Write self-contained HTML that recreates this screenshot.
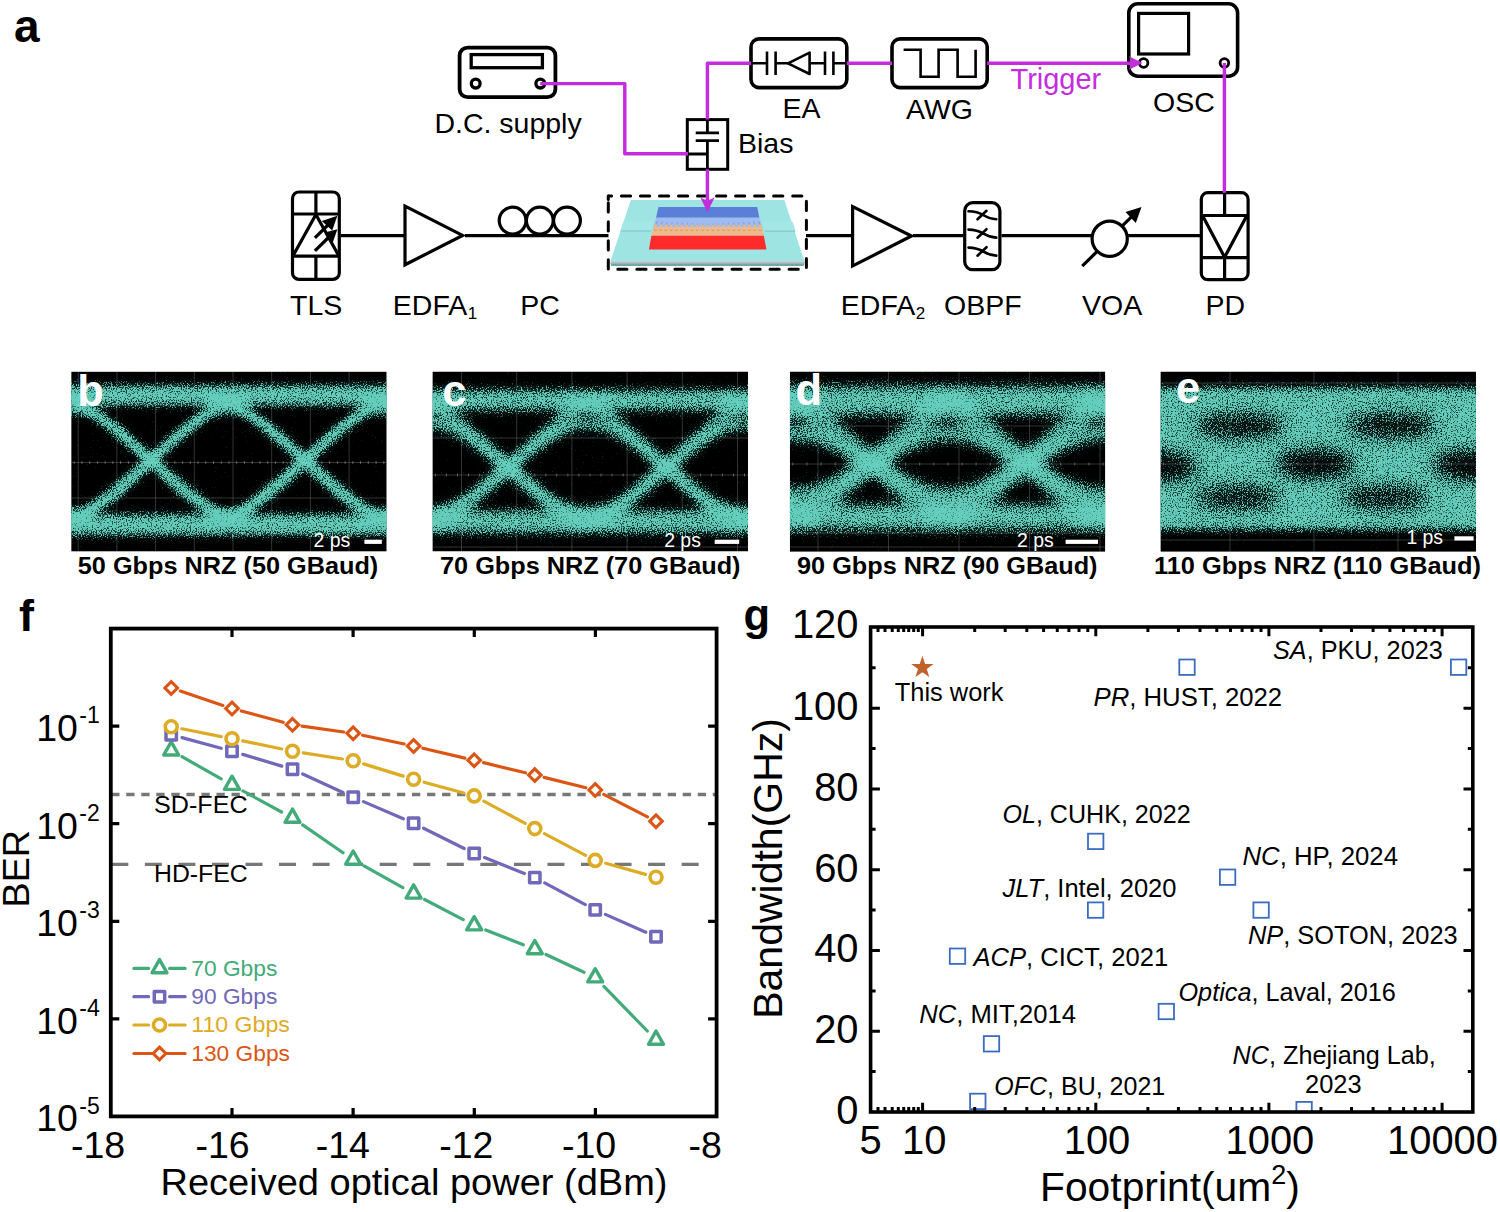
<!DOCTYPE html>
<html><head><meta charset="utf-8"><title>Figure</title>
<style>
html,body{margin:0;padding:0;background:#fff;}
body{width:1500px;height:1212px;overflow:hidden;}
svg{display:block;}
text{font-family:"Liberation Sans",sans-serif;}
.b{font-weight:bold;}
.i{font-style:italic;}
</style></head><body>
<svg width="1500" height="1212" viewBox="0 0 1500 1212">
<rect x="0" y="0" width="1500" height="1212" fill="#fff"/>

<g id="pa" fill="none" stroke="#000" stroke-width="3.2" stroke-linejoin="miter">
<text x="14" y="42" class="b" font-size="46" fill="#000" stroke="none">a</text>
<line x1="340.8" y1="235.6" x2="405" y2="235.6"/>
<line x1="465" y1="235.6" x2="608.5" y2="235.6"/>
<line x1="806" y1="235.6" x2="852" y2="235.6"/>
<line x1="913" y1="235.6" x2="963" y2="235.6"/>
<line x1="1001.5" y1="235.6" x2="1092.5" y2="235.6"/>
<line x1="1127" y1="235.6" x2="1200" y2="235.6"/>
<rect x="292.5" y="192" width="46.8" height="87.4" rx="6.5"/>
<path d="M292.5 214H339.3M292.5 256.1H339.3M315.9 192V214M315.9 256.1V279.4"/>
<path d="M292.9 256L315.9 214.5L338.9 256" stroke-linejoin="miter"/>
<path d="M314.9 237.9L329 224M314.9 250.9L329 237"/>
<path d="M337.4 215.8L321.8 221L332.2 230.5Z M337.4 229.2L324.8 232.4L332.2 243.9Z" fill="#000" stroke="none"/>
<path d="M405 206V264.8L462.6 235.4Z"/>
<circle cx="512.6" cy="220.6" r="13.4"/><circle cx="539.8" cy="220.6" r="13.4"/><circle cx="567" cy="220.6" r="13.4"/>
<path d="M852.6 206.5V266L911.5 236Z"/>
<rect x="964.7" y="202.7" width="35.2" height="67" rx="8"/>
<path d="M968.5 211.2 C976 211.2 980 213 984 215.5 S991 219 996.3 219.2 M977.5 219.3 L986.5 210.8" stroke-width="2.6" stroke-linecap="round"/>
<path d="M968.5 229.6 C976 229.6 980 231.4 984 233.9 S991 237.4 996.3 237.6 M977.5 237.70000000000002 L986.5 229.20000000000002" stroke-width="2.6" stroke-linecap="round"/>
<path d="M968.5 247.6 C976 247.6 980 249.4 984 251.9 S991 255.4 996.3 255.6 M977.5 255.70000000000002 L986.5 247.20000000000002" stroke-width="2.6" stroke-linecap="round"/>
<circle cx="1109.7" cy="238.7" r="17.6"/>
<path d="M1082.2 266.2L1097.4 251.2M1122 226.2L1133 215.4"/>
<path d="M1141.5 207.1L1125.5 212L1135.8 222.9Z" fill="#000" stroke="none"/>
<rect x="1201.3" y="192.7" width="46.8" height="87" rx="6.5"/>
<path d="M1201.3 215.5H1248.1M1201.3 257.6H1248.1M1224.6 192.7V215.5M1224.6 257.6V279.7"/>
<path d="M1202.6 215.8L1224.6 257.2L1246.8 215.8"/>
<rect x="459.6" y="47.6" width="95.8" height="49.6" rx="8" stroke-width="3.8"/>
<rect x="471.2" y="54.6" width="71.2" height="13.1" stroke-width="3.3"/>
<circle cx="475.7" cy="83.6" r="4.4" stroke-width="3.3"/><circle cx="540.3" cy="83.6" r="4.4" stroke-width="3.3"/>
<rect x="687.3" y="119.6" width="40.4" height="49.7" stroke-width="3"/>
<path d="M707.4 119.6V132.9M695.7 132.9H719M695.7 140.6H719M707.4 140.6V169.3M687.3 154H707.4" stroke-width="2.8"/>
<rect x="751" y="38.9" width="95.8" height="48.7" rx="8" stroke-width="3.6"/>
<path d="M751 63.3H767M767 51.5V75M775.6 51.5V75M775.6 63.3H789M810 63.3H825M825 51.5V75M833.4 51.5V75M833.4 63.3H846.8" stroke-width="2.6"/>
<path d="M788 63.3L809.6 52.6V74L788 63.3Z" stroke-width="2.6" stroke-linejoin="round"/>
<rect x="892" y="38.9" width="95.2" height="48.7" rx="8" stroke-width="3.6"/>
<path d="M903.6 49.8H920.6V76.8H938.6V49.8H957.6V76.8H975.6V49.8" stroke-width="2.6"/>
<rect x="1128.8" y="3.8" width="108.8" height="72.4" rx="9" stroke-width="3.6"/>
<rect x="1138.6" y="13.4" width="50" height="40.6" stroke-width="3.2"/>
<circle cx="1143.6" cy="63" r="4.3" stroke-width="2.8"/><circle cx="1224.4" cy="63" r="4.3" stroke-width="2.8"/>
</g>
<g id="chip">
<path d="M630.8 200H784.4L804.4 261.2H610.5Z" fill="#9de4e3"/>
<path d="M610.5 261.2H804.4V263.2H610.5Z" fill="#bdbdbd"/>
<path d="M610.5 263.2H804.4L803.6 266H611.3Z" fill="#6ea9a8"/>
<path d="M623.5 221.5L654 221.5L651 230.6L620.5 230.6Z" fill="#a4e8e6"/>
<path d="M620.5 230.6H651V231.6H620.3Z" fill="#7fc4c3"/>
<path d="M762 221.5L792.5 221.5L795.5 230.6L765 230.6Z" fill="#a4e8e6"/>
<path d="M765 230.6H795.5V231.6H765Z" fill="#7fc4c3"/>
<path d="M658.5 207H757.2L759.4 217.8H656Z" fill="#5b7ed6"/>
<path d="M656 217.8H759.4L762 227.2H653.4Z" fill="#9ebcf2"/>
<path d="M653.4 227.2H762L763.8 235.8H651.4Z" fill="#efb98b"/>
<path d="M651.4 235.8H763.8L766.4 249.6H648.9Z" fill="#ff2a2a"/>
<path d="M655.6 225L657.2 221.4M660.8 225L662.3 221.6M666.1 225L667.3 221.9M671.3 225L672.4 222.1M676.5 225L677.5 222.4M681.8 225L682.5 222.6M687.0 225L687.6 222.8M692.2 225L692.7 223.1M697.4 225L697.8 223.3M702.7 225L702.8 223.6M707.9 225L707.9 223.8M713.1 225L713.0 223.6M718.4 225L718.0 223.3M723.6 225L723.1 223.1M728.8 225L728.2 222.8M734.1 225L733.3 222.6M739.3 225L738.3 222.4M744.5 225L743.4 222.1M749.7 225L748.5 221.9M755.0 225L753.5 221.6M760.2 225L758.6 221.4" stroke="#7f8bb5" stroke-width="0.7" fill="none"/>
<path d="M654.2 230.2h2.4M659.4 230.2h2.4M664.7 230.2h2.4M669.9 230.2h2.4M675.1 230.2h2.4M680.4 230.2h2.4M685.6 230.2h2.4M690.8 230.2h2.4M696.0 230.2h2.4M701.3 230.2h2.4M706.5 230.2h2.4M711.7 230.2h2.4M717.0 230.2h2.4M722.2 230.2h2.4M727.4 230.2h2.4M732.7 230.2h2.4M737.9 230.2h2.4M743.1 230.2h2.4M748.3 230.2h2.4M753.6 230.2h2.4M758.8 230.2h2.4" stroke="#c48d62" stroke-width="0.9" fill="none"/>
<path d="M654.6 230V224.7Q655.6 223.8 656.6 224.7V230ZM659.8 230V224.8Q660.8 223.9 661.8 224.8V230ZM665.1 230V224.8Q666.1 223.9 667.1 224.8V230ZM670.3 230V224.8Q671.3 224.0 672.3 224.8V230ZM675.5 230V224.9Q676.5 224.0 677.5 224.9V230ZM680.8 230V224.9Q681.8 224.1 682.8 224.9V230ZM686.0 230V225.0Q687.0 224.1 688.0 225.0V230ZM691.2 230V225.0Q692.2 224.2 693.2 225.0V230ZM696.4 230V225.1Q697.4 224.2 698.4 225.1V230ZM701.7 230V225.1Q702.7 224.2 703.7 225.1V230ZM706.9 230V225.2Q707.9 224.3 708.9 225.2V230ZM712.1 230V225.1Q713.1 224.2 714.1 225.1V230ZM717.4 230V225.1Q718.4 224.2 719.4 225.1V230ZM722.6 230V225.0Q723.6 224.2 724.6 225.0V230ZM727.8 230V225.0Q728.8 224.1 729.8 225.0V230ZM733.1 230V224.9Q734.1 224.1 735.1 224.9V230ZM738.3 230V224.9Q739.3 224.0 740.3 224.9V230ZM743.5 230V224.8Q744.5 224.0 745.5 224.8V230ZM748.7 230V224.8Q749.7 223.9 750.7 224.8V230ZM754.0 230V224.8Q755.0 223.9 756.0 224.8V230ZM759.2 230V224.7Q760.2 223.8 761.2 224.7V230Z" fill="#f3bd8b" stroke="#d9a273" stroke-width="0.3"/>
<path d="M608.3 196V199.4" stroke="#000" stroke-width="3" fill="none" stroke-linecap="round"/>
<rect x="608.3" y="196" width="198.1" height="73.3" fill="none" stroke="#000" stroke-width="3" stroke-dasharray="9.2 9.83" stroke-dashoffset="5.93" stroke-linecap="round"/>
</g>
<g fill="none" stroke="#c42ddc" stroke-width="3.45" stroke-linejoin="round">
<path d="M540.2 83.6H624.8V153.8H688"/>
<path d="M751 63.3H707.4V119.6"/>
<path d="M707.4 169.3V200"/>
<path d="M846.8 63.3H892"/>
<path d="M987.2 63.3H1132"/>
<path d="M1224.4 63V192.7"/>
<path d="M700.2 197.3L707.4 212L714.8 197.3Q707.4 203 700.2 197.3Z" fill="#c42ddc" stroke="none"/>
<path d="M1129 56.2L1142.6 63L1129 69.8Q1132.5 63 1129 56.2Z" fill="#c42ddc" stroke="none"/>
</g>
<g font-size="28.5" fill="#000">
<text x="290" y="315.2">TLS</text>
<text x="392.8" y="315.2">EDFA<tspan font-size="17" dy="3.8" dx="0.5">1</tspan></text>
<text x="520.3" y="315.2">PC</text>
<text x="840.8" y="315.2">EDFA<tspan font-size="17" dy="3.8" dx="0.5">2</tspan></text>
<text x="944" y="315.2">OBPF</text>
<text x="1082" y="315.2">VOA</text>
<text x="1205.5" y="315.2">PD</text>
<text x="434.4" y="133">D.C. supply</text>
<text x="738" y="153">Bias</text>
<text x="782.5" y="118.4">EA</text>
<text x="906" y="118.6">AWG</text>
<text x="1153" y="111.6">OSC</text>
<text x="1010.5" y="89" font-size="29" fill="#c42ddc">Trigger</text>
</g>
<defs><clipPath id="ec1"><rect x="71.2" y="371.6" width="315.5" height="180.0"/></clipPath>
<filter id="ef1" x="0" y="0" width="100%" height="100%" color-interpolation-filters="sRGB">
 <feGaussianBlur in="SourceAlpha" stdDeviation="3.9" result="I"/>
 <feTurbulence type="fractalNoise" baseFrequency="0.8" numOctaves="2" seed="48" result="n"/>
 <feColorMatrix in="n" type="matrix" values="0 0 0 0 0  0 0 0 0 0  0 0 0 0 0  1 0 0 0 0" result="n1"/>
 <feComponentTransfer in="n1" result="U"><feFuncA type="table" tableValues="0.0002 0.002 0.016 0.076 0.239 0.5 0.761 0.924 0.984 0.998 1"/></feComponentTransfer>
 <feComposite in="I" in2="U" operator="arithmetic" k1="0" k2="3.920" k3="-3.500" k4="0.185" result="d"/>
 <feComponentTransfer in="d" result="d2"><feFuncA type="linear" slope="0.82" intercept="0"/></feComponentTransfer>
 <feFlood flood-color="#76ead6" result="c"/>
 <feFlood flood-color="#2ca392" result="cb"/>
 <feComposite in="c" in2="d2" operator="in" result="dots"/>
 <feComponentTransfer in="I" result="Ib"><feFuncA type="linear" slope="0.5" intercept="0"/></feComponentTransfer>
 <feComposite in="cb" in2="Ib" operator="in" result="base"/>
 <feMerge result="m"><feMergeNode in="base"/><feMergeNode in="dots"/></feMerge>
 <feGaussianBlur in="m" stdDeviation="0.5"/>
</filter>
</defs>
<g clip-path="url(#ec1)">
<rect x="71.2" y="371.6" width="315.5" height="180.0" fill="#000"/>
<path d="M78.2 371.6 V551.6M116.9 371.6 V551.6M155.6 371.6 V551.6M194.3 371.6 V551.6M233.0 371.6 V551.6M271.7 371.6 V551.6M310.4 371.6 V551.6M349.1 371.6 V551.6M387.8 371.6 V551.6M71.2 405.0 H386.7M71.2 462.5 H386.7M71.2 498.0 H386.7M71.2 534.0 H386.7" stroke="#aaa" stroke-opacity="0.3" stroke-width="1" fill="none"/>
<path d="M74.2 461.0 v3M81.9 461.0 v3M89.7 461.0 v3M97.4 461.0 v3M105.2 461.0 v3M112.9 461.0 v3M120.6 461.0 v3M128.4 461.0 v3M136.1 461.0 v3M143.9 461.0 v3M151.6 461.0 v3M159.3 461.0 v3M167.1 461.0 v3M174.8 461.0 v3M182.6 461.0 v3M190.3 461.0 v3M198.0 461.0 v3M205.8 461.0 v3M213.5 461.0 v3M221.3 461.0 v3M229.0 461.0 v3M236.7 461.0 v3M244.5 461.0 v3M252.2 461.0 v3M260.0 461.0 v3M267.7 461.0 v3M275.4 461.0 v3M283.2 461.0 v3M290.9 461.0 v3M298.7 461.0 v3M306.4 461.0 v3M314.1 461.0 v3M321.9 461.0 v3M329.6 461.0 v3M337.4 461.0 v3M345.1 461.0 v3M352.8 461.0 v3M360.6 461.0 v3M368.3 461.0 v3M376.1 461.0 v3M383.8 461.0 v3" stroke="#bbb" stroke-opacity="0.45" stroke-width="1" fill="none"/>
<g filter="url(#ef1)" fill="none" stroke="#000" stroke-linecap="butt">
<rect x="51.2" y="351.6" width="355.5" height="220.0" fill="#000" fill-opacity="0.002" stroke="none"/>
<path d="M41.2 395.2 H416.7" stroke-width="22" stroke-opacity="0.62"/>
<path d="M41.2 395.2 H416.7" stroke-width="8" stroke-opacity="0.6"/>
<path d="M41.2 524.5 H416.7" stroke-width="23" stroke-opacity="0.62"/>
<path d="M41.2 524.5 H416.7" stroke-width="8" stroke-opacity="0.6"/>
<path d="M-103.3 523.1 L-100.3 522.8 L-97.3 522.5 L-94.3 522.0 L-91.3 521.4 L-88.3 520.7 L-85.3 519.8 L-82.3 518.8 L-79.3 517.7 L-76.3 516.4 L-73.3 514.9 L-70.3 513.3 L-67.3 511.6 L-64.3 509.7 L-61.3 507.7 L-58.3 505.6 L-55.3 503.4 L-52.3 501.1 L-49.3 498.8 L-46.3 496.4 L-43.3 493.9 L-40.3 491.5 L-37.3 489.0 L-34.3 486.5 L-31.3 483.9 L-28.3 481.4 L-25.3 478.8 L-22.3 476.3 L-19.3 473.7 L-16.3 471.2 L-13.3 468.6 L-10.3 466.1 L-7.3 463.5 L-4.3 460.9 L-1.3 458.4 L1.7 455.8 L4.7 453.3 L7.7 450.7 L10.7 448.1 L13.7 445.6 L16.7 443.0 L19.7 440.5 L22.7 437.9 L25.7 435.4 L28.7 432.9 L31.7 430.4 L34.7 427.9 L37.7 425.4 L40.7 423.0 L43.7 420.6 L46.7 418.3 L49.7 416.0 L52.7 413.8 L55.7 411.8 L58.7 409.8 L61.7 408.0 L64.7 406.3 L67.7 404.7 L70.7 403.3 L73.7 402.0 L76.7 400.9 L79.7 400.0 L82.7 399.1 L85.7 398.5 L88.7 397.9 L91.7 397.4 L94.7 397.1" stroke-width="11" stroke-opacity="0.6"/>
<path d="M-103.3 523.1 L-100.3 522.8 L-97.3 522.5 L-94.3 522.0 L-91.3 521.4 L-88.3 520.7 L-85.3 519.8 L-82.3 518.8 L-79.3 517.7 L-76.3 516.4 L-73.3 514.9 L-70.3 513.3 L-67.3 511.6 L-64.3 509.7 L-61.3 507.7 L-58.3 505.6 L-55.3 503.4 L-52.3 501.1 L-49.3 498.8 L-46.3 496.4 L-43.3 493.9 L-40.3 491.5 L-37.3 489.0 L-34.3 486.5 L-31.3 483.9 L-28.3 481.4 L-25.3 478.8 L-22.3 476.3 L-19.3 473.7 L-16.3 471.2 L-13.3 468.6 L-10.3 466.1 L-7.3 463.5 L-4.3 460.9 L-1.3 458.4 L1.7 455.8 L4.7 453.3 L7.7 450.7 L10.7 448.1 L13.7 445.6 L16.7 443.0 L19.7 440.5 L22.7 437.9 L25.7 435.4 L28.7 432.9 L31.7 430.4 L34.7 427.9 L37.7 425.4 L40.7 423.0 L43.7 420.6 L46.7 418.3 L49.7 416.0 L52.7 413.8 L55.7 411.8 L58.7 409.8 L61.7 408.0 L64.7 406.3 L67.7 404.7 L70.7 403.3 L73.7 402.0 L76.7 400.9 L79.7 400.0 L82.7 399.1 L85.7 398.5 L88.7 397.9 L91.7 397.4 L94.7 397.1" stroke-width="4" stroke-opacity="0.5"/>
<path d="M-103.3 396.9 L-100.3 397.2 L-97.3 397.5 L-94.3 398.0 L-91.3 398.6 L-88.3 399.3 L-85.3 400.2 L-82.3 401.2 L-79.3 402.3 L-76.3 403.6 L-73.3 405.1 L-70.3 406.7 L-67.3 408.4 L-64.3 410.3 L-61.3 412.3 L-58.3 414.4 L-55.3 416.6 L-52.3 418.9 L-49.3 421.2 L-46.3 423.6 L-43.3 426.1 L-40.3 428.5 L-37.3 431.0 L-34.3 433.5 L-31.3 436.1 L-28.3 438.6 L-25.3 441.2 L-22.3 443.7 L-19.3 446.3 L-16.3 448.8 L-13.3 451.4 L-10.3 453.9 L-7.3 456.5 L-4.3 459.1 L-1.3 461.6 L1.7 464.2 L4.7 466.7 L7.7 469.3 L10.7 471.9 L13.7 474.4 L16.7 477.0 L19.7 479.5 L22.7 482.1 L25.7 484.6 L28.7 487.1 L31.7 489.6 L34.7 492.1 L37.7 494.6 L40.7 497.0 L43.7 499.4 L46.7 501.7 L49.7 504.0 L52.7 506.2 L55.7 508.2 L58.7 510.2 L61.7 512.0 L64.7 513.7 L67.7 515.3 L70.7 516.7 L73.7 518.0 L76.7 519.1 L79.7 520.0 L82.7 520.9 L85.7 521.5 L88.7 522.1 L91.7 522.6 L94.7 522.9" stroke-width="11" stroke-opacity="0.6"/>
<path d="M-103.3 396.9 L-100.3 397.2 L-97.3 397.5 L-94.3 398.0 L-91.3 398.6 L-88.3 399.3 L-85.3 400.2 L-82.3 401.2 L-79.3 402.3 L-76.3 403.6 L-73.3 405.1 L-70.3 406.7 L-67.3 408.4 L-64.3 410.3 L-61.3 412.3 L-58.3 414.4 L-55.3 416.6 L-52.3 418.9 L-49.3 421.2 L-46.3 423.6 L-43.3 426.1 L-40.3 428.5 L-37.3 431.0 L-34.3 433.5 L-31.3 436.1 L-28.3 438.6 L-25.3 441.2 L-22.3 443.7 L-19.3 446.3 L-16.3 448.8 L-13.3 451.4 L-10.3 453.9 L-7.3 456.5 L-4.3 459.1 L-1.3 461.6 L1.7 464.2 L4.7 466.7 L7.7 469.3 L10.7 471.9 L13.7 474.4 L16.7 477.0 L19.7 479.5 L22.7 482.1 L25.7 484.6 L28.7 487.1 L31.7 489.6 L34.7 492.1 L37.7 494.6 L40.7 497.0 L43.7 499.4 L46.7 501.7 L49.7 504.0 L52.7 506.2 L55.7 508.2 L58.7 510.2 L61.7 512.0 L64.7 513.7 L67.7 515.3 L70.7 516.7 L73.7 518.0 L76.7 519.1 L79.7 520.0 L82.7 520.9 L85.7 521.5 L88.7 522.1 L91.7 522.6 L94.7 522.9" stroke-width="4" stroke-opacity="0.5"/>
<path d="M50.7 523.1 L53.7 522.8 L56.7 522.5 L59.7 522.0 L62.7 521.4 L65.7 520.7 L68.7 519.8 L71.7 518.8 L74.7 517.7 L77.7 516.4 L80.7 514.9 L83.7 513.3 L86.7 511.6 L89.7 509.7 L92.7 507.7 L95.7 505.6 L98.7 503.4 L101.7 501.1 L104.7 498.8 L107.7 496.4 L110.7 493.9 L113.7 491.5 L116.7 489.0 L119.7 486.5 L122.7 483.9 L125.7 481.4 L128.7 478.8 L131.7 476.3 L134.7 473.7 L137.7 471.2 L140.7 468.6 L143.7 466.1 L146.7 463.5 L149.7 460.9 L152.7 458.4 L155.7 455.8 L158.7 453.3 L161.7 450.7 L164.7 448.1 L167.7 445.6 L170.7 443.0 L173.7 440.5 L176.7 437.9 L179.7 435.4 L182.7 432.9 L185.7 430.4 L188.7 427.9 L191.7 425.4 L194.7 423.0 L197.7 420.6 L200.7 418.3 L203.7 416.0 L206.7 413.8 L209.7 411.8 L212.7 409.8 L215.7 408.0 L218.7 406.3 L221.7 404.7 L224.7 403.3 L227.7 402.0 L230.7 400.9 L233.7 400.0 L236.7 399.1 L239.7 398.5 L242.7 397.9 L245.7 397.4 L248.7 397.1" stroke-width="11" stroke-opacity="0.6"/>
<path d="M50.7 523.1 L53.7 522.8 L56.7 522.5 L59.7 522.0 L62.7 521.4 L65.7 520.7 L68.7 519.8 L71.7 518.8 L74.7 517.7 L77.7 516.4 L80.7 514.9 L83.7 513.3 L86.7 511.6 L89.7 509.7 L92.7 507.7 L95.7 505.6 L98.7 503.4 L101.7 501.1 L104.7 498.8 L107.7 496.4 L110.7 493.9 L113.7 491.5 L116.7 489.0 L119.7 486.5 L122.7 483.9 L125.7 481.4 L128.7 478.8 L131.7 476.3 L134.7 473.7 L137.7 471.2 L140.7 468.6 L143.7 466.1 L146.7 463.5 L149.7 460.9 L152.7 458.4 L155.7 455.8 L158.7 453.3 L161.7 450.7 L164.7 448.1 L167.7 445.6 L170.7 443.0 L173.7 440.5 L176.7 437.9 L179.7 435.4 L182.7 432.9 L185.7 430.4 L188.7 427.9 L191.7 425.4 L194.7 423.0 L197.7 420.6 L200.7 418.3 L203.7 416.0 L206.7 413.8 L209.7 411.8 L212.7 409.8 L215.7 408.0 L218.7 406.3 L221.7 404.7 L224.7 403.3 L227.7 402.0 L230.7 400.9 L233.7 400.0 L236.7 399.1 L239.7 398.5 L242.7 397.9 L245.7 397.4 L248.7 397.1" stroke-width="4" stroke-opacity="0.5"/>
<path d="M50.7 396.9 L53.7 397.2 L56.7 397.5 L59.7 398.0 L62.7 398.6 L65.7 399.3 L68.7 400.2 L71.7 401.2 L74.7 402.3 L77.7 403.6 L80.7 405.1 L83.7 406.7 L86.7 408.4 L89.7 410.3 L92.7 412.3 L95.7 414.4 L98.7 416.6 L101.7 418.9 L104.7 421.2 L107.7 423.6 L110.7 426.1 L113.7 428.5 L116.7 431.0 L119.7 433.5 L122.7 436.1 L125.7 438.6 L128.7 441.2 L131.7 443.7 L134.7 446.3 L137.7 448.8 L140.7 451.4 L143.7 453.9 L146.7 456.5 L149.7 459.1 L152.7 461.6 L155.7 464.2 L158.7 466.7 L161.7 469.3 L164.7 471.9 L167.7 474.4 L170.7 477.0 L173.7 479.5 L176.7 482.1 L179.7 484.6 L182.7 487.1 L185.7 489.6 L188.7 492.1 L191.7 494.6 L194.7 497.0 L197.7 499.4 L200.7 501.7 L203.7 504.0 L206.7 506.2 L209.7 508.2 L212.7 510.2 L215.7 512.0 L218.7 513.7 L221.7 515.3 L224.7 516.7 L227.7 518.0 L230.7 519.1 L233.7 520.0 L236.7 520.9 L239.7 521.5 L242.7 522.1 L245.7 522.6 L248.7 522.9" stroke-width="11" stroke-opacity="0.6"/>
<path d="M50.7 396.9 L53.7 397.2 L56.7 397.5 L59.7 398.0 L62.7 398.6 L65.7 399.3 L68.7 400.2 L71.7 401.2 L74.7 402.3 L77.7 403.6 L80.7 405.1 L83.7 406.7 L86.7 408.4 L89.7 410.3 L92.7 412.3 L95.7 414.4 L98.7 416.6 L101.7 418.9 L104.7 421.2 L107.7 423.6 L110.7 426.1 L113.7 428.5 L116.7 431.0 L119.7 433.5 L122.7 436.1 L125.7 438.6 L128.7 441.2 L131.7 443.7 L134.7 446.3 L137.7 448.8 L140.7 451.4 L143.7 453.9 L146.7 456.5 L149.7 459.1 L152.7 461.6 L155.7 464.2 L158.7 466.7 L161.7 469.3 L164.7 471.9 L167.7 474.4 L170.7 477.0 L173.7 479.5 L176.7 482.1 L179.7 484.6 L182.7 487.1 L185.7 489.6 L188.7 492.1 L191.7 494.6 L194.7 497.0 L197.7 499.4 L200.7 501.7 L203.7 504.0 L206.7 506.2 L209.7 508.2 L212.7 510.2 L215.7 512.0 L218.7 513.7 L221.7 515.3 L224.7 516.7 L227.7 518.0 L230.7 519.1 L233.7 520.0 L236.7 520.9 L239.7 521.5 L242.7 522.1 L245.7 522.6 L248.7 522.9" stroke-width="4" stroke-opacity="0.5"/>
<path d="M204.7 523.1 L207.7 522.8 L210.7 522.5 L213.7 522.0 L216.7 521.4 L219.7 520.7 L222.7 519.8 L225.7 518.8 L228.7 517.7 L231.7 516.4 L234.7 514.9 L237.7 513.3 L240.7 511.6 L243.7 509.7 L246.7 507.7 L249.7 505.6 L252.7 503.4 L255.7 501.1 L258.7 498.8 L261.7 496.4 L264.7 493.9 L267.7 491.5 L270.7 489.0 L273.7 486.5 L276.7 483.9 L279.7 481.4 L282.7 478.8 L285.7 476.3 L288.7 473.7 L291.7 471.2 L294.7 468.6 L297.7 466.1 L300.7 463.5 L303.7 460.9 L306.7 458.4 L309.7 455.8 L312.7 453.3 L315.7 450.7 L318.7 448.1 L321.7 445.6 L324.7 443.0 L327.7 440.5 L330.7 437.9 L333.7 435.4 L336.7 432.9 L339.7 430.4 L342.7 427.9 L345.7 425.4 L348.7 423.0 L351.7 420.6 L354.7 418.3 L357.7 416.0 L360.7 413.8 L363.7 411.8 L366.7 409.8 L369.7 408.0 L372.7 406.3 L375.7 404.7 L378.7 403.3 L381.7 402.0 L384.7 400.9 L387.7 400.0 L390.7 399.1 L393.7 398.5 L396.7 397.9 L399.7 397.4 L402.7 397.1" stroke-width="11" stroke-opacity="0.6"/>
<path d="M204.7 523.1 L207.7 522.8 L210.7 522.5 L213.7 522.0 L216.7 521.4 L219.7 520.7 L222.7 519.8 L225.7 518.8 L228.7 517.7 L231.7 516.4 L234.7 514.9 L237.7 513.3 L240.7 511.6 L243.7 509.7 L246.7 507.7 L249.7 505.6 L252.7 503.4 L255.7 501.1 L258.7 498.8 L261.7 496.4 L264.7 493.9 L267.7 491.5 L270.7 489.0 L273.7 486.5 L276.7 483.9 L279.7 481.4 L282.7 478.8 L285.7 476.3 L288.7 473.7 L291.7 471.2 L294.7 468.6 L297.7 466.1 L300.7 463.5 L303.7 460.9 L306.7 458.4 L309.7 455.8 L312.7 453.3 L315.7 450.7 L318.7 448.1 L321.7 445.6 L324.7 443.0 L327.7 440.5 L330.7 437.9 L333.7 435.4 L336.7 432.9 L339.7 430.4 L342.7 427.9 L345.7 425.4 L348.7 423.0 L351.7 420.6 L354.7 418.3 L357.7 416.0 L360.7 413.8 L363.7 411.8 L366.7 409.8 L369.7 408.0 L372.7 406.3 L375.7 404.7 L378.7 403.3 L381.7 402.0 L384.7 400.9 L387.7 400.0 L390.7 399.1 L393.7 398.5 L396.7 397.9 L399.7 397.4 L402.7 397.1" stroke-width="4" stroke-opacity="0.5"/>
<path d="M204.7 396.9 L207.7 397.2 L210.7 397.5 L213.7 398.0 L216.7 398.6 L219.7 399.3 L222.7 400.2 L225.7 401.2 L228.7 402.3 L231.7 403.6 L234.7 405.1 L237.7 406.7 L240.7 408.4 L243.7 410.3 L246.7 412.3 L249.7 414.4 L252.7 416.6 L255.7 418.9 L258.7 421.2 L261.7 423.6 L264.7 426.1 L267.7 428.5 L270.7 431.0 L273.7 433.5 L276.7 436.1 L279.7 438.6 L282.7 441.2 L285.7 443.7 L288.7 446.3 L291.7 448.8 L294.7 451.4 L297.7 453.9 L300.7 456.5 L303.7 459.1 L306.7 461.6 L309.7 464.2 L312.7 466.7 L315.7 469.3 L318.7 471.9 L321.7 474.4 L324.7 477.0 L327.7 479.5 L330.7 482.1 L333.7 484.6 L336.7 487.1 L339.7 489.6 L342.7 492.1 L345.7 494.6 L348.7 497.0 L351.7 499.4 L354.7 501.7 L357.7 504.0 L360.7 506.2 L363.7 508.2 L366.7 510.2 L369.7 512.0 L372.7 513.7 L375.7 515.3 L378.7 516.7 L381.7 518.0 L384.7 519.1 L387.7 520.0 L390.7 520.9 L393.7 521.5 L396.7 522.1 L399.7 522.6 L402.7 522.9" stroke-width="11" stroke-opacity="0.6"/>
<path d="M204.7 396.9 L207.7 397.2 L210.7 397.5 L213.7 398.0 L216.7 398.6 L219.7 399.3 L222.7 400.2 L225.7 401.2 L228.7 402.3 L231.7 403.6 L234.7 405.1 L237.7 406.7 L240.7 408.4 L243.7 410.3 L246.7 412.3 L249.7 414.4 L252.7 416.6 L255.7 418.9 L258.7 421.2 L261.7 423.6 L264.7 426.1 L267.7 428.5 L270.7 431.0 L273.7 433.5 L276.7 436.1 L279.7 438.6 L282.7 441.2 L285.7 443.7 L288.7 446.3 L291.7 448.8 L294.7 451.4 L297.7 453.9 L300.7 456.5 L303.7 459.1 L306.7 461.6 L309.7 464.2 L312.7 466.7 L315.7 469.3 L318.7 471.9 L321.7 474.4 L324.7 477.0 L327.7 479.5 L330.7 482.1 L333.7 484.6 L336.7 487.1 L339.7 489.6 L342.7 492.1 L345.7 494.6 L348.7 497.0 L351.7 499.4 L354.7 501.7 L357.7 504.0 L360.7 506.2 L363.7 508.2 L366.7 510.2 L369.7 512.0 L372.7 513.7 L375.7 515.3 L378.7 516.7 L381.7 518.0 L384.7 519.1 L387.7 520.0 L390.7 520.9 L393.7 521.5 L396.7 522.1 L399.7 522.6 L402.7 522.9" stroke-width="4" stroke-opacity="0.5"/>
<path d="M358.7 523.1 L361.7 522.8 L364.7 522.5 L367.7 522.0 L370.7 521.4 L373.7 520.7 L376.7 519.8 L379.7 518.8 L382.7 517.7 L385.7 516.4 L388.7 514.9 L391.7 513.3 L394.7 511.6 L397.7 509.7 L400.7 507.7 L403.7 505.6 L406.7 503.4 L409.7 501.1 L412.7 498.8 L415.7 496.4 L418.7 493.9 L421.7 491.5 L424.7 489.0 L427.7 486.5 L430.7 483.9 L433.7 481.4 L436.7 478.8 L439.7 476.3 L442.7 473.7 L445.7 471.2 L448.7 468.6 L451.7 466.1 L454.7 463.5 L457.7 460.9 L460.7 458.4 L463.7 455.8 L466.7 453.3 L469.7 450.7 L472.7 448.1 L475.7 445.6 L478.7 443.0 L481.7 440.5 L484.7 437.9 L487.7 435.4 L490.7 432.9 L493.7 430.4 L496.7 427.9 L499.7 425.4 L502.7 423.0 L505.7 420.6 L508.7 418.3 L511.7 416.0 L514.7 413.8 L517.7 411.8 L520.7 409.8 L523.7 408.0 L526.7 406.3 L529.7 404.7 L532.7 403.3 L535.7 402.0 L538.7 400.9 L541.7 400.0 L544.7 399.1 L547.7 398.5 L550.7 397.9 L553.7 397.4 L556.7 397.1" stroke-width="11" stroke-opacity="0.6"/>
<path d="M358.7 523.1 L361.7 522.8 L364.7 522.5 L367.7 522.0 L370.7 521.4 L373.7 520.7 L376.7 519.8 L379.7 518.8 L382.7 517.7 L385.7 516.4 L388.7 514.9 L391.7 513.3 L394.7 511.6 L397.7 509.7 L400.7 507.7 L403.7 505.6 L406.7 503.4 L409.7 501.1 L412.7 498.8 L415.7 496.4 L418.7 493.9 L421.7 491.5 L424.7 489.0 L427.7 486.5 L430.7 483.9 L433.7 481.4 L436.7 478.8 L439.7 476.3 L442.7 473.7 L445.7 471.2 L448.7 468.6 L451.7 466.1 L454.7 463.5 L457.7 460.9 L460.7 458.4 L463.7 455.8 L466.7 453.3 L469.7 450.7 L472.7 448.1 L475.7 445.6 L478.7 443.0 L481.7 440.5 L484.7 437.9 L487.7 435.4 L490.7 432.9 L493.7 430.4 L496.7 427.9 L499.7 425.4 L502.7 423.0 L505.7 420.6 L508.7 418.3 L511.7 416.0 L514.7 413.8 L517.7 411.8 L520.7 409.8 L523.7 408.0 L526.7 406.3 L529.7 404.7 L532.7 403.3 L535.7 402.0 L538.7 400.9 L541.7 400.0 L544.7 399.1 L547.7 398.5 L550.7 397.9 L553.7 397.4 L556.7 397.1" stroke-width="4" stroke-opacity="0.5"/>
<path d="M358.7 396.9 L361.7 397.2 L364.7 397.5 L367.7 398.0 L370.7 398.6 L373.7 399.3 L376.7 400.2 L379.7 401.2 L382.7 402.3 L385.7 403.6 L388.7 405.1 L391.7 406.7 L394.7 408.4 L397.7 410.3 L400.7 412.3 L403.7 414.4 L406.7 416.6 L409.7 418.9 L412.7 421.2 L415.7 423.6 L418.7 426.1 L421.7 428.5 L424.7 431.0 L427.7 433.5 L430.7 436.1 L433.7 438.6 L436.7 441.2 L439.7 443.7 L442.7 446.3 L445.7 448.8 L448.7 451.4 L451.7 453.9 L454.7 456.5 L457.7 459.1 L460.7 461.6 L463.7 464.2 L466.7 466.7 L469.7 469.3 L472.7 471.9 L475.7 474.4 L478.7 477.0 L481.7 479.5 L484.7 482.1 L487.7 484.6 L490.7 487.1 L493.7 489.6 L496.7 492.1 L499.7 494.6 L502.7 497.0 L505.7 499.4 L508.7 501.7 L511.7 504.0 L514.7 506.2 L517.7 508.2 L520.7 510.2 L523.7 512.0 L526.7 513.7 L529.7 515.3 L532.7 516.7 L535.7 518.0 L538.7 519.1 L541.7 520.0 L544.7 520.9 L547.7 521.5 L550.7 522.1 L553.7 522.6 L556.7 522.9" stroke-width="11" stroke-opacity="0.6"/>
<path d="M358.7 396.9 L361.7 397.2 L364.7 397.5 L367.7 398.0 L370.7 398.6 L373.7 399.3 L376.7 400.2 L379.7 401.2 L382.7 402.3 L385.7 403.6 L388.7 405.1 L391.7 406.7 L394.7 408.4 L397.7 410.3 L400.7 412.3 L403.7 414.4 L406.7 416.6 L409.7 418.9 L412.7 421.2 L415.7 423.6 L418.7 426.1 L421.7 428.5 L424.7 431.0 L427.7 433.5 L430.7 436.1 L433.7 438.6 L436.7 441.2 L439.7 443.7 L442.7 446.3 L445.7 448.8 L448.7 451.4 L451.7 453.9 L454.7 456.5 L457.7 459.1 L460.7 461.6 L463.7 464.2 L466.7 466.7 L469.7 469.3 L472.7 471.9 L475.7 474.4 L478.7 477.0 L481.7 479.5 L484.7 482.1 L487.7 484.6 L490.7 487.1 L493.7 489.6 L496.7 492.1 L499.7 494.6 L502.7 497.0 L505.7 499.4 L508.7 501.7 L511.7 504.0 L514.7 506.2 L517.7 508.2 L520.7 510.2 L523.7 512.0 L526.7 513.7 L529.7 515.3 L532.7 516.7 L535.7 518.0 L538.7 519.1 L541.7 520.0 L544.7 520.9 L547.7 521.5 L550.7 522.1 L553.7 522.6 L556.7 522.9" stroke-width="4" stroke-opacity="0.5"/>
<path d="M61.2 510.6 L64.2 511.3 L67.2 511.8 L70.2 512.2 L73.2 512.3 L76.2 512.2 L79.2 512.0 L82.2 511.6 L85.2 510.9 L88.2 510.1 L91.2 509.1 L94.2 507.9 L97.2 506.6 L100.2 505.1 L103.2 503.4 L106.2 501.6 L109.2 499.6 L112.2 497.4 L115.2 495.2 L118.2 492.8 L121.2 490.3 L124.2 487.6 L127.2 484.9 L130.2 482.1 L133.2 479.2 L136.2 476.3 L139.2 473.3 L142.2 470.2 L145.2 467.1 L148.2 464.0 L151.2 460.9 L154.2 457.8 L157.2 454.7 L160.2 451.6 L163.2 448.5 L166.2 445.5 L169.2 442.6 L172.2 439.7 L175.2 436.9 L178.2 434.3 L181.2 431.7 L184.2 429.2 L187.2 426.8 L190.2 424.6 L193.2 422.5 L196.2 420.5 L199.2 418.7 L202.2 417.1 L205.2 415.6 L208.2 414.3 L211.2 413.2 L214.2 412.3 L217.2 411.5 L220.2 410.9 L223.2 410.5 L226.2 410.3 L229.2 410.3 L232.2 410.5 L235.2 410.9 L238.2 411.4 L241.2 412.2 L244.2 413.1 L247.2 414.2 L250.2 415.5 L253.2 417.0 L256.2 418.6 L259.2 420.4 L262.2 422.4 L265.2 424.4 L268.2 426.7 L271.2 429.0 L274.2 431.5 L277.2 434.1 L280.2 436.8 L283.2 439.5 L286.2 442.4 L289.2 445.3 L292.2 448.3 L295.2 451.4 L298.2 454.5 L301.2 457.6 L304.2 460.7 L307.2 463.8 L310.2 466.9 L313.2 470.0 L316.2 473.1 L319.2 476.1 L322.2 479.0 L325.2 481.9 L328.2 484.7 L331.2 487.5 L334.2 490.1 L337.2 492.6 L340.2 495.0 L343.2 497.3 L346.2 499.4 L349.2 501.4 L352.2 503.3 L355.2 505.0 L358.2 506.5 L361.2 507.9 L364.2 509.0 L367.2 510.1 L370.2 510.9 L373.2 511.5 L376.2 512.0 L379.2 512.2 L382.2 512.3 L385.2 512.2 L388.2 511.9 L391.2 511.4 L394.2 510.7" stroke-width="9" stroke-opacity="0.6"/>
<path d="M61.2 412.0 L64.2 411.3 L67.2 410.8 L70.2 410.4 L73.2 410.3 L76.2 410.4 L79.2 410.6 L82.2 411.0 L85.2 411.7 L88.2 412.5 L91.2 413.5 L94.2 414.7 L97.2 416.0 L100.2 417.5 L103.2 419.2 L106.2 421.0 L109.2 423.0 L112.2 425.2 L115.2 427.4 L118.2 429.8 L121.2 432.3 L124.2 435.0 L127.2 437.7 L130.2 440.5 L133.2 443.4 L136.2 446.3 L139.2 449.3 L142.2 452.4 L145.2 455.5 L148.2 458.6 L151.2 461.7 L154.2 464.8 L157.2 467.9 L160.2 471.0 L163.2 474.1 L166.2 477.1 L169.2 480.0 L172.2 482.9 L175.2 485.7 L178.2 488.3 L181.2 490.9 L184.2 493.4 L187.2 495.8 L190.2 498.0 L193.2 500.1 L196.2 502.1 L199.2 503.9 L202.2 505.5 L205.2 507.0 L208.2 508.3 L211.2 509.4 L214.2 510.3 L217.2 511.1 L220.2 511.7 L223.2 512.1 L226.2 512.3 L229.2 512.3 L232.2 512.1 L235.2 511.7 L238.2 511.2 L241.2 510.4 L244.2 509.5 L247.2 508.4 L250.2 507.1 L253.2 505.6 L256.2 504.0 L259.2 502.2 L262.2 500.2 L265.2 498.2 L268.2 495.9 L271.2 493.6 L274.2 491.1 L277.2 488.5 L280.2 485.8 L283.2 483.1 L286.2 480.2 L289.2 477.3 L292.2 474.3 L295.2 471.2 L298.2 468.1 L301.2 465.0 L304.2 461.9 L307.2 458.8 L310.2 455.7 L313.2 452.6 L316.2 449.5 L319.2 446.5 L322.2 443.6 L325.2 440.7 L328.2 437.9 L331.2 435.1 L334.2 432.5 L337.2 430.0 L340.2 427.6 L343.2 425.3 L346.2 423.2 L349.2 421.2 L352.2 419.3 L355.2 417.6 L358.2 416.1 L361.2 414.7 L364.2 413.6 L367.2 412.5 L370.2 411.7 L373.2 411.1 L376.2 410.6 L379.2 410.4 L382.2 410.3 L385.2 410.4 L388.2 410.7 L391.2 411.2 L394.2 411.9" stroke-width="9" stroke-opacity="0.6"/>

</g>
<text x="77.3" y="405.6" class="b" font-size="43.5" fill="#fff">b</text>
<text x="313.6" y="547" font-size="19.4" fill="#fff">2 ps</text>
<rect x="364.4" y="539.7" width="17.400000000000034" height="4.2" fill="#fff"/>
</g>
<defs><clipPath id="ec2"><rect x="432.4" y="371.5" width="315.70000000000005" height="180.0"/></clipPath>
<filter id="ef2" x="0" y="0" width="100%" height="100%" color-interpolation-filters="sRGB">
 <feGaussianBlur in="SourceAlpha" stdDeviation="4.7" result="I"/>
 <feTurbulence type="fractalNoise" baseFrequency="0.8" numOctaves="2" seed="56" result="n"/>
 <feColorMatrix in="n" type="matrix" values="0 0 0 0 0  0 0 0 0 0  0 0 0 0 0  1 0 0 0 0" result="n1"/>
 <feComponentTransfer in="n1" result="U"><feFuncA type="table" tableValues="0.0002 0.002 0.016 0.076 0.239 0.5 0.761 0.924 0.984 0.998 1"/></feComponentTransfer>
 <feComposite in="I" in2="U" operator="arithmetic" k1="0" k2="3.920" k3="-3.500" k4="0.185" result="d"/>
 <feComponentTransfer in="d" result="d2"><feFuncA type="linear" slope="0.82" intercept="0"/></feComponentTransfer>
 <feFlood flood-color="#76ead6" result="c"/>
 <feFlood flood-color="#2ca392" result="cb"/>
 <feComposite in="c" in2="d2" operator="in" result="dots"/>
 <feComponentTransfer in="I" result="Ib"><feFuncA type="linear" slope="0.5" intercept="0"/></feComponentTransfer>
 <feComposite in="cb" in2="Ib" operator="in" result="base"/>
 <feMerge result="m"><feMergeNode in="base"/><feMergeNode in="dots"/></feMerge>
 <feGaussianBlur in="m" stdDeviation="0.5"/>
</filter>
</defs>
<g clip-path="url(#ec2)">
<rect x="432.4" y="371.5" width="315.70000000000005" height="180.0" fill="#000"/>
<path d="M461.5 371.5 V551.5M516.7 371.5 V551.5M571.9 371.5 V551.5M627.1 371.5 V551.5M682.3 371.5 V551.5M737.5 371.5 V551.5M432.4 438.0 H748.1M432.4 475.0 H748.1M432.4 511.0 H748.1M432.4 547.0 H748.1" stroke="#aaa" stroke-opacity="0.3" stroke-width="1" fill="none"/>
<path d="M435.4 473.5 v3M446.4 473.5 v3M457.5 473.5 v3M468.5 473.5 v3M479.6 473.5 v3M490.6 473.5 v3M501.6 473.5 v3M512.7 473.5 v3M523.7 473.5 v3M534.8 473.5 v3M545.8 473.5 v3M556.8 473.5 v3M567.9 473.5 v3M578.9 473.5 v3M590.0 473.5 v3M601.0 473.5 v3M612.0 473.5 v3M623.1 473.5 v3M634.1 473.5 v3M645.2 473.5 v3M656.2 473.5 v3M667.2 473.5 v3M678.3 473.5 v3M689.3 473.5 v3M700.4 473.5 v3M711.4 473.5 v3M722.4 473.5 v3M733.5 473.5 v3M744.5 473.5 v3" stroke="#bbb" stroke-opacity="0.45" stroke-width="1" fill="none"/>
<g filter="url(#ef2)" fill="none" stroke="#000" stroke-linecap="butt">
<rect x="412.4" y="351.5" width="355.70000000000005" height="220.0" fill="#000" fill-opacity="0.002" stroke="none"/>
<path d="M402.4 400.0 H778.1" stroke-width="22" stroke-opacity="0.62"/>
<path d="M402.4 400.0 H778.1" stroke-width="8" stroke-opacity="0.55"/>
<path d="M402.4 521.8 H778.1" stroke-width="24" stroke-opacity="0.62"/>
<path d="M402.4 521.8 H778.1" stroke-width="8" stroke-opacity="0.55"/>
<path d="M247.4 517.0 L250.4 517.0 L253.4 516.9 L256.4 516.9 L259.4 516.8 L262.4 516.7 L265.4 516.5 L268.4 516.3 L271.4 515.9 L274.4 515.5 L277.4 514.9 L280.4 514.1 L283.4 513.2 L286.4 512.1 L289.4 510.8 L292.4 509.3 L295.4 507.6 L298.4 505.8 L301.4 503.7 L304.4 501.6 L307.4 499.3 L310.4 496.9 L313.4 494.4 L316.4 491.9 L319.4 489.4 L322.4 486.8 L325.4 484.2 L328.4 481.5 L331.4 478.9 L334.4 476.3 L337.4 473.6 L340.4 471.0 L343.4 468.4 L346.4 465.7 L349.4 463.1 L352.4 460.4 L355.4 457.8 L358.4 455.2 L361.4 452.5 L364.4 449.9 L367.4 447.2 L370.4 444.6 L373.4 442.0 L376.4 439.3 L379.4 436.7 L382.4 434.0 L385.4 431.4 L388.4 428.8 L391.4 426.2 L394.4 423.6 L397.4 421.0 L400.4 418.5 L403.4 416.0 L406.4 413.6 L409.4 411.3 L412.4 409.1 L415.4 407.1 L418.4 405.2 L421.4 403.5 L424.4 401.9 L427.4 400.6 L430.4 399.5 L433.4 398.5 L436.4 397.7 L439.4 397.1 L442.4 396.6 L445.4 396.3 L448.4 396.0 L451.4 395.8" stroke-width="7" stroke-opacity="0.62"/>
<path d="M247.4 526.0 L250.4 526.0 L253.4 525.9 L256.4 525.9 L259.4 525.8 L262.4 525.7 L265.4 525.5 L268.4 525.3 L271.4 524.9 L274.4 524.5 L277.4 523.9 L280.4 523.1 L283.4 522.2 L286.4 521.1 L289.4 519.8 L292.4 518.3 L295.4 516.6 L298.4 514.8 L301.4 512.7 L304.4 510.6 L307.4 508.3 L310.4 505.9 L313.4 503.4 L316.4 500.9 L319.4 498.4 L322.4 495.8 L325.4 493.2 L328.4 490.5 L331.4 487.9 L334.4 485.3 L337.4 482.6 L340.4 480.0 L343.4 477.4 L346.4 474.7 L349.4 472.1 L352.4 469.4 L355.4 466.8 L358.4 464.2 L361.4 461.5 L364.4 458.9 L367.4 456.2 L370.4 453.6 L373.4 451.0 L376.4 448.3 L379.4 445.7 L382.4 443.0 L385.4 440.4 L388.4 437.8 L391.4 435.2 L394.4 432.6 L397.4 430.0 L400.4 427.5 L403.4 425.0 L406.4 422.6 L409.4 420.3 L412.4 418.1 L415.4 416.1 L418.4 414.2 L421.4 412.5 L424.4 410.9 L427.4 409.6 L430.4 408.5 L433.4 407.5 L436.4 406.7 L439.4 406.1 L442.4 405.6 L445.4 405.3 L448.4 405.0 L451.4 404.8" stroke-width="7" stroke-opacity="0.62"/>
<path d="M247.4 395.8 L250.4 395.9 L253.4 396.1 L256.4 396.4 L259.4 396.9 L262.4 397.4 L265.4 398.1 L268.4 398.9 L271.4 400.0 L274.4 401.2 L277.4 402.7 L280.4 404.3 L283.4 406.1 L286.4 408.1 L289.4 410.2 L292.4 412.4 L295.4 414.8 L298.4 417.2 L301.4 419.7 L304.4 422.3 L307.4 424.9 L310.4 427.5 L313.4 430.1 L316.4 432.7 L319.4 435.3 L322.4 438.0 L325.4 440.6 L328.4 443.3 L331.4 445.9 L334.4 448.5 L337.4 451.2 L340.4 453.8 L343.4 456.5 L346.4 459.1 L349.4 461.7 L352.4 464.4 L355.4 467.0 L358.4 469.7 L361.4 472.3 L364.4 474.9 L367.4 477.6 L370.4 480.2 L373.4 482.8 L376.4 485.4 L379.4 488.0 L382.4 490.6 L385.4 493.2 L388.4 495.6 L391.4 498.1 L394.4 500.4 L397.4 502.6 L400.4 504.7 L403.4 506.7 L406.4 508.5 L409.4 510.1 L412.4 511.5 L415.4 512.7 L418.4 513.7 L421.4 514.5 L424.4 515.2 L427.4 515.7 L430.4 516.1 L433.4 516.4 L436.4 516.6 L439.4 516.7 L442.4 516.8 L445.4 516.9 L448.4 516.9 L451.4 517.0" stroke-width="7" stroke-opacity="0.62"/>
<path d="M247.4 404.8 L250.4 404.9 L253.4 405.1 L256.4 405.4 L259.4 405.9 L262.4 406.4 L265.4 407.1 L268.4 407.9 L271.4 409.0 L274.4 410.2 L277.4 411.7 L280.4 413.3 L283.4 415.1 L286.4 417.1 L289.4 419.2 L292.4 421.4 L295.4 423.8 L298.4 426.2 L301.4 428.7 L304.4 431.3 L307.4 433.9 L310.4 436.5 L313.4 439.1 L316.4 441.7 L319.4 444.3 L322.4 447.0 L325.4 449.6 L328.4 452.3 L331.4 454.9 L334.4 457.5 L337.4 460.2 L340.4 462.8 L343.4 465.5 L346.4 468.1 L349.4 470.7 L352.4 473.4 L355.4 476.0 L358.4 478.7 L361.4 481.3 L364.4 483.9 L367.4 486.6 L370.4 489.2 L373.4 491.8 L376.4 494.4 L379.4 497.0 L382.4 499.6 L385.4 502.2 L388.4 504.6 L391.4 507.1 L394.4 509.4 L397.4 511.6 L400.4 513.7 L403.4 515.7 L406.4 517.5 L409.4 519.1 L412.4 520.5 L415.4 521.7 L418.4 522.7 L421.4 523.5 L424.4 524.2 L427.4 524.7 L430.4 525.1 L433.4 525.4 L436.4 525.6 L439.4 525.7 L442.4 525.8 L445.4 525.9 L448.4 525.9 L451.4 526.0" stroke-width="7" stroke-opacity="0.62"/>
<path d="M405.5 517.0 L408.5 517.0 L411.5 516.9 L414.5 516.9 L417.5 516.8 L420.5 516.7 L423.5 516.5 L426.5 516.3 L429.5 515.9 L432.5 515.5 L435.5 514.9 L438.5 514.1 L441.5 513.2 L444.5 512.1 L447.5 510.8 L450.5 509.3 L453.5 507.6 L456.5 505.8 L459.5 503.7 L462.5 501.6 L465.5 499.3 L468.5 496.9 L471.5 494.4 L474.5 491.9 L477.5 489.4 L480.5 486.8 L483.5 484.2 L486.5 481.5 L489.5 478.9 L492.5 476.3 L495.5 473.6 L498.5 471.0 L501.5 468.4 L504.5 465.7 L507.5 463.1 L510.5 460.4 L513.5 457.8 L516.5 455.2 L519.5 452.5 L522.5 449.9 L525.5 447.2 L528.5 444.6 L531.5 442.0 L534.5 439.3 L537.5 436.7 L540.5 434.0 L543.5 431.4 L546.5 428.8 L549.5 426.2 L552.5 423.6 L555.5 421.0 L558.5 418.5 L561.5 416.0 L564.5 413.6 L567.5 411.3 L570.5 409.1 L573.5 407.1 L576.5 405.2 L579.5 403.5 L582.5 401.9 L585.5 400.6 L588.5 399.5 L591.5 398.5 L594.5 397.7 L597.5 397.1 L600.5 396.6 L603.5 396.3 L606.5 396.0 L609.5 395.8" stroke-width="7" stroke-opacity="0.62"/>
<path d="M405.5 526.0 L408.5 526.0 L411.5 525.9 L414.5 525.9 L417.5 525.8 L420.5 525.7 L423.5 525.5 L426.5 525.3 L429.5 524.9 L432.5 524.5 L435.5 523.9 L438.5 523.1 L441.5 522.2 L444.5 521.1 L447.5 519.8 L450.5 518.3 L453.5 516.6 L456.5 514.8 L459.5 512.7 L462.5 510.6 L465.5 508.3 L468.5 505.9 L471.5 503.4 L474.5 500.9 L477.5 498.4 L480.5 495.8 L483.5 493.2 L486.5 490.5 L489.5 487.9 L492.5 485.3 L495.5 482.6 L498.5 480.0 L501.5 477.4 L504.5 474.7 L507.5 472.1 L510.5 469.4 L513.5 466.8 L516.5 464.2 L519.5 461.5 L522.5 458.9 L525.5 456.2 L528.5 453.6 L531.5 451.0 L534.5 448.3 L537.5 445.7 L540.5 443.0 L543.5 440.4 L546.5 437.8 L549.5 435.2 L552.5 432.6 L555.5 430.0 L558.5 427.5 L561.5 425.0 L564.5 422.6 L567.5 420.3 L570.5 418.1 L573.5 416.1 L576.5 414.2 L579.5 412.5 L582.5 410.9 L585.5 409.6 L588.5 408.5 L591.5 407.5 L594.5 406.7 L597.5 406.1 L600.5 405.6 L603.5 405.3 L606.5 405.0 L609.5 404.8" stroke-width="7" stroke-opacity="0.62"/>
<path d="M405.5 395.8 L408.5 395.9 L411.5 396.1 L414.5 396.4 L417.5 396.9 L420.5 397.4 L423.5 398.1 L426.5 398.9 L429.5 400.0 L432.5 401.2 L435.5 402.7 L438.5 404.3 L441.5 406.1 L444.5 408.1 L447.5 410.2 L450.5 412.4 L453.5 414.8 L456.5 417.2 L459.5 419.7 L462.5 422.3 L465.5 424.9 L468.5 427.5 L471.5 430.1 L474.5 432.7 L477.5 435.3 L480.5 438.0 L483.5 440.6 L486.5 443.3 L489.5 445.9 L492.5 448.5 L495.5 451.2 L498.5 453.8 L501.5 456.5 L504.5 459.1 L507.5 461.7 L510.5 464.4 L513.5 467.0 L516.5 469.7 L519.5 472.3 L522.5 474.9 L525.5 477.6 L528.5 480.2 L531.5 482.8 L534.5 485.4 L537.5 488.0 L540.5 490.6 L543.5 493.2 L546.5 495.6 L549.5 498.1 L552.5 500.4 L555.5 502.6 L558.5 504.7 L561.5 506.7 L564.5 508.5 L567.5 510.1 L570.5 511.5 L573.5 512.7 L576.5 513.7 L579.5 514.5 L582.5 515.2 L585.5 515.7 L588.5 516.1 L591.5 516.4 L594.5 516.6 L597.5 516.7 L600.5 516.8 L603.5 516.9 L606.5 516.9 L609.5 517.0" stroke-width="7" stroke-opacity="0.62"/>
<path d="M405.5 404.8 L408.5 404.9 L411.5 405.1 L414.5 405.4 L417.5 405.9 L420.5 406.4 L423.5 407.1 L426.5 407.9 L429.5 409.0 L432.5 410.2 L435.5 411.7 L438.5 413.3 L441.5 415.1 L444.5 417.1 L447.5 419.2 L450.5 421.4 L453.5 423.8 L456.5 426.2 L459.5 428.7 L462.5 431.3 L465.5 433.9 L468.5 436.5 L471.5 439.1 L474.5 441.7 L477.5 444.3 L480.5 447.0 L483.5 449.6 L486.5 452.3 L489.5 454.9 L492.5 457.5 L495.5 460.2 L498.5 462.8 L501.5 465.5 L504.5 468.1 L507.5 470.7 L510.5 473.4 L513.5 476.0 L516.5 478.7 L519.5 481.3 L522.5 483.9 L525.5 486.6 L528.5 489.2 L531.5 491.8 L534.5 494.4 L537.5 497.0 L540.5 499.6 L543.5 502.2 L546.5 504.6 L549.5 507.1 L552.5 509.4 L555.5 511.6 L558.5 513.7 L561.5 515.7 L564.5 517.5 L567.5 519.1 L570.5 520.5 L573.5 521.7 L576.5 522.7 L579.5 523.5 L582.5 524.2 L585.5 524.7 L588.5 525.1 L591.5 525.4 L594.5 525.6 L597.5 525.7 L600.5 525.8 L603.5 525.9 L606.5 525.9 L609.5 526.0" stroke-width="7" stroke-opacity="0.62"/>
<path d="M563.6 517.0 L566.6 517.0 L569.6 516.9 L572.6 516.9 L575.6 516.8 L578.6 516.7 L581.6 516.5 L584.6 516.3 L587.6 515.9 L590.6 515.5 L593.6 514.9 L596.6 514.1 L599.6 513.2 L602.6 512.1 L605.6 510.8 L608.6 509.3 L611.6 507.6 L614.6 505.8 L617.6 503.7 L620.6 501.6 L623.6 499.3 L626.6 496.9 L629.6 494.4 L632.6 491.9 L635.6 489.4 L638.6 486.8 L641.6 484.2 L644.6 481.5 L647.6 478.9 L650.6 476.3 L653.6 473.6 L656.6 471.0 L659.6 468.4 L662.6 465.7 L665.6 463.1 L668.6 460.4 L671.6 457.8 L674.6 455.2 L677.6 452.5 L680.6 449.9 L683.6 447.2 L686.6 444.6 L689.6 442.0 L692.6 439.3 L695.6 436.7 L698.6 434.0 L701.6 431.4 L704.6 428.8 L707.6 426.2 L710.6 423.6 L713.6 421.0 L716.6 418.5 L719.6 416.0 L722.6 413.6 L725.6 411.3 L728.6 409.1 L731.6 407.1 L734.6 405.2 L737.6 403.5 L740.6 401.9 L743.6 400.6 L746.6 399.5 L749.6 398.5 L752.6 397.7 L755.6 397.1 L758.6 396.6 L761.6 396.3 L764.6 396.0 L767.6 395.8" stroke-width="7" stroke-opacity="0.62"/>
<path d="M563.6 526.0 L566.6 526.0 L569.6 525.9 L572.6 525.9 L575.6 525.8 L578.6 525.7 L581.6 525.5 L584.6 525.3 L587.6 524.9 L590.6 524.5 L593.6 523.9 L596.6 523.1 L599.6 522.2 L602.6 521.1 L605.6 519.8 L608.6 518.3 L611.6 516.6 L614.6 514.8 L617.6 512.7 L620.6 510.6 L623.6 508.3 L626.6 505.9 L629.6 503.4 L632.6 500.9 L635.6 498.4 L638.6 495.8 L641.6 493.2 L644.6 490.5 L647.6 487.9 L650.6 485.3 L653.6 482.6 L656.6 480.0 L659.6 477.4 L662.6 474.7 L665.6 472.1 L668.6 469.4 L671.6 466.8 L674.6 464.2 L677.6 461.5 L680.6 458.9 L683.6 456.2 L686.6 453.6 L689.6 451.0 L692.6 448.3 L695.6 445.7 L698.6 443.0 L701.6 440.4 L704.6 437.8 L707.6 435.2 L710.6 432.6 L713.6 430.0 L716.6 427.5 L719.6 425.0 L722.6 422.6 L725.6 420.3 L728.6 418.1 L731.6 416.1 L734.6 414.2 L737.6 412.5 L740.6 410.9 L743.6 409.6 L746.6 408.5 L749.6 407.5 L752.6 406.7 L755.6 406.1 L758.6 405.6 L761.6 405.3 L764.6 405.0 L767.6 404.8" stroke-width="7" stroke-opacity="0.62"/>
<path d="M563.6 395.8 L566.6 395.9 L569.6 396.1 L572.6 396.4 L575.6 396.9 L578.6 397.4 L581.6 398.1 L584.6 398.9 L587.6 400.0 L590.6 401.2 L593.6 402.7 L596.6 404.3 L599.6 406.1 L602.6 408.1 L605.6 410.2 L608.6 412.4 L611.6 414.8 L614.6 417.2 L617.6 419.7 L620.6 422.3 L623.6 424.9 L626.6 427.5 L629.6 430.1 L632.6 432.7 L635.6 435.3 L638.6 438.0 L641.6 440.6 L644.6 443.3 L647.6 445.9 L650.6 448.5 L653.6 451.2 L656.6 453.8 L659.6 456.5 L662.6 459.1 L665.6 461.7 L668.6 464.4 L671.6 467.0 L674.6 469.7 L677.6 472.3 L680.6 474.9 L683.6 477.6 L686.6 480.2 L689.6 482.8 L692.6 485.4 L695.6 488.0 L698.6 490.6 L701.6 493.2 L704.6 495.6 L707.6 498.1 L710.6 500.4 L713.6 502.6 L716.6 504.7 L719.6 506.7 L722.6 508.5 L725.6 510.1 L728.6 511.5 L731.6 512.7 L734.6 513.7 L737.6 514.5 L740.6 515.2 L743.6 515.7 L746.6 516.1 L749.6 516.4 L752.6 516.6 L755.6 516.7 L758.6 516.8 L761.6 516.9 L764.6 516.9 L767.6 517.0" stroke-width="7" stroke-opacity="0.62"/>
<path d="M563.6 404.8 L566.6 404.9 L569.6 405.1 L572.6 405.4 L575.6 405.9 L578.6 406.4 L581.6 407.1 L584.6 407.9 L587.6 409.0 L590.6 410.2 L593.6 411.7 L596.6 413.3 L599.6 415.1 L602.6 417.1 L605.6 419.2 L608.6 421.4 L611.6 423.8 L614.6 426.2 L617.6 428.7 L620.6 431.3 L623.6 433.9 L626.6 436.5 L629.6 439.1 L632.6 441.7 L635.6 444.3 L638.6 447.0 L641.6 449.6 L644.6 452.3 L647.6 454.9 L650.6 457.5 L653.6 460.2 L656.6 462.8 L659.6 465.5 L662.6 468.1 L665.6 470.7 L668.6 473.4 L671.6 476.0 L674.6 478.7 L677.6 481.3 L680.6 483.9 L683.6 486.6 L686.6 489.2 L689.6 491.8 L692.6 494.4 L695.6 497.0 L698.6 499.6 L701.6 502.2 L704.6 504.6 L707.6 507.1 L710.6 509.4 L713.6 511.6 L716.6 513.7 L719.6 515.7 L722.6 517.5 L725.6 519.1 L728.6 520.5 L731.6 521.7 L734.6 522.7 L737.6 523.5 L740.6 524.2 L743.6 524.7 L746.6 525.1 L749.6 525.4 L752.6 525.6 L755.6 525.7 L758.6 525.8 L761.6 525.9 L764.6 525.9 L767.6 526.0" stroke-width="7" stroke-opacity="0.62"/>
<path d="M721.7 517.0 L724.7 517.0 L727.7 516.9 L730.7 516.9 L733.7 516.8 L736.7 516.7 L739.7 516.5 L742.7 516.3 L745.7 515.9 L748.7 515.5 L751.7 514.9 L754.7 514.1 L757.7 513.2 L760.7 512.1 L763.7 510.8 L766.7 509.3 L769.7 507.6 L772.7 505.8 L775.7 503.7 L778.7 501.6 L781.7 499.3 L784.7 496.9 L787.7 494.4 L790.7 491.9 L793.7 489.4 L796.7 486.8 L799.7 484.2 L802.7 481.5 L805.7 478.9 L808.7 476.3 L811.7 473.6 L814.7 471.0 L817.7 468.4 L820.7 465.7 L823.7 463.1 L826.7 460.4 L829.7 457.8 L832.7 455.2 L835.7 452.5 L838.7 449.9 L841.7 447.2 L844.7 444.6 L847.7 442.0 L850.7 439.3 L853.7 436.7 L856.7 434.0 L859.7 431.4 L862.7 428.8 L865.7 426.2 L868.7 423.6 L871.7 421.0 L874.7 418.5 L877.7 416.0 L880.7 413.6 L883.7 411.3 L886.7 409.1 L889.7 407.1 L892.7 405.2 L895.7 403.5 L898.7 401.9 L901.7 400.6 L904.7 399.5 L907.7 398.5 L910.7 397.7 L913.7 397.1 L916.7 396.6 L919.7 396.3 L922.7 396.0 L925.7 395.8" stroke-width="7" stroke-opacity="0.62"/>
<path d="M721.7 526.0 L724.7 526.0 L727.7 525.9 L730.7 525.9 L733.7 525.8 L736.7 525.7 L739.7 525.5 L742.7 525.3 L745.7 524.9 L748.7 524.5 L751.7 523.9 L754.7 523.1 L757.7 522.2 L760.7 521.1 L763.7 519.8 L766.7 518.3 L769.7 516.6 L772.7 514.8 L775.7 512.7 L778.7 510.6 L781.7 508.3 L784.7 505.9 L787.7 503.4 L790.7 500.9 L793.7 498.4 L796.7 495.8 L799.7 493.2 L802.7 490.5 L805.7 487.9 L808.7 485.3 L811.7 482.6 L814.7 480.0 L817.7 477.4 L820.7 474.7 L823.7 472.1 L826.7 469.4 L829.7 466.8 L832.7 464.2 L835.7 461.5 L838.7 458.9 L841.7 456.2 L844.7 453.6 L847.7 451.0 L850.7 448.3 L853.7 445.7 L856.7 443.0 L859.7 440.4 L862.7 437.8 L865.7 435.2 L868.7 432.6 L871.7 430.0 L874.7 427.5 L877.7 425.0 L880.7 422.6 L883.7 420.3 L886.7 418.1 L889.7 416.1 L892.7 414.2 L895.7 412.5 L898.7 410.9 L901.7 409.6 L904.7 408.5 L907.7 407.5 L910.7 406.7 L913.7 406.1 L916.7 405.6 L919.7 405.3 L922.7 405.0 L925.7 404.8" stroke-width="7" stroke-opacity="0.62"/>
<path d="M721.7 395.8 L724.7 395.9 L727.7 396.1 L730.7 396.4 L733.7 396.9 L736.7 397.4 L739.7 398.1 L742.7 398.9 L745.7 400.0 L748.7 401.2 L751.7 402.7 L754.7 404.3 L757.7 406.1 L760.7 408.1 L763.7 410.2 L766.7 412.4 L769.7 414.8 L772.7 417.2 L775.7 419.7 L778.7 422.3 L781.7 424.9 L784.7 427.5 L787.7 430.1 L790.7 432.7 L793.7 435.3 L796.7 438.0 L799.7 440.6 L802.7 443.3 L805.7 445.9 L808.7 448.5 L811.7 451.2 L814.7 453.8 L817.7 456.5 L820.7 459.1 L823.7 461.7 L826.7 464.4 L829.7 467.0 L832.7 469.7 L835.7 472.3 L838.7 474.9 L841.7 477.6 L844.7 480.2 L847.7 482.8 L850.7 485.4 L853.7 488.0 L856.7 490.6 L859.7 493.2 L862.7 495.6 L865.7 498.1 L868.7 500.4 L871.7 502.6 L874.7 504.7 L877.7 506.7 L880.7 508.5 L883.7 510.1 L886.7 511.5 L889.7 512.7 L892.7 513.7 L895.7 514.5 L898.7 515.2 L901.7 515.7 L904.7 516.1 L907.7 516.4 L910.7 516.6 L913.7 516.7 L916.7 516.8 L919.7 516.9 L922.7 516.9 L925.7 517.0" stroke-width="7" stroke-opacity="0.62"/>
<path d="M721.7 404.8 L724.7 404.9 L727.7 405.1 L730.7 405.4 L733.7 405.9 L736.7 406.4 L739.7 407.1 L742.7 407.9 L745.7 409.0 L748.7 410.2 L751.7 411.7 L754.7 413.3 L757.7 415.1 L760.7 417.1 L763.7 419.2 L766.7 421.4 L769.7 423.8 L772.7 426.2 L775.7 428.7 L778.7 431.3 L781.7 433.9 L784.7 436.5 L787.7 439.1 L790.7 441.7 L793.7 444.3 L796.7 447.0 L799.7 449.6 L802.7 452.3 L805.7 454.9 L808.7 457.5 L811.7 460.2 L814.7 462.8 L817.7 465.5 L820.7 468.1 L823.7 470.7 L826.7 473.4 L829.7 476.0 L832.7 478.7 L835.7 481.3 L838.7 483.9 L841.7 486.6 L844.7 489.2 L847.7 491.8 L850.7 494.4 L853.7 497.0 L856.7 499.6 L859.7 502.2 L862.7 504.6 L865.7 507.1 L868.7 509.4 L871.7 511.6 L874.7 513.7 L877.7 515.7 L880.7 517.5 L883.7 519.1 L886.7 520.5 L889.7 521.7 L892.7 522.7 L895.7 523.5 L898.7 524.2 L901.7 524.7 L904.7 525.1 L907.7 525.4 L910.7 525.6 L913.7 525.7 L916.7 525.8 L919.7 525.9 L922.7 525.9 L925.7 526.0" stroke-width="7" stroke-opacity="0.62"/>
<path d="M422.4 511.6 L425.4 511.9 L428.4 512.0 L431.4 512.0 L434.4 511.8 L437.4 511.4 L440.4 510.9 L443.4 510.3 L446.4 509.5 L449.4 508.5 L452.4 507.4 L455.4 506.2 L458.4 504.8 L461.4 503.3 L464.4 501.7 L467.4 500.0 L470.4 498.1 L473.4 496.1 L476.4 494.1 L479.4 491.9 L482.4 489.7 L485.4 487.3 L488.4 484.9 L491.4 482.5 L494.4 480.0 L497.4 477.5 L500.4 474.9 L503.4 472.3 L506.4 469.7 L509.4 467.0 L512.4 464.4 L515.4 461.8 L518.4 459.2 L521.4 456.7 L524.4 454.2 L527.4 451.7 L530.4 449.3 L533.4 447.0 L536.4 444.7 L539.4 442.5 L542.4 440.4 L545.4 438.4 L548.4 436.5 L551.4 434.8 L554.4 433.1 L557.4 431.6 L560.4 430.2 L563.4 428.9 L566.4 427.8 L569.4 426.8 L572.4 425.9 L575.4 425.2 L578.4 424.7 L581.4 424.3 L584.4 424.1 L587.4 424.0 L590.4 424.1 L593.4 424.3 L596.4 424.7 L599.4 425.3 L602.4 426.0 L605.4 426.8 L608.4 427.8 L611.4 428.9 L614.4 430.2 L617.4 431.6 L620.4 433.2 L623.4 434.8 L626.4 436.6 L629.4 438.5 L632.4 440.5 L635.4 442.6 L638.4 444.8 L641.4 447.0 L644.4 449.4 L647.4 451.8 L650.4 454.2 L653.4 456.8 L656.4 459.3 L659.4 461.9 L662.4 464.5 L665.4 467.1 L668.4 469.7 L671.4 472.4 L674.4 475.0 L677.4 477.5 L680.4 480.1 L683.4 482.6 L686.4 485.0 L689.4 487.4 L692.4 489.7 L695.4 492.0 L698.4 494.1 L701.4 496.2 L704.4 498.2 L707.4 500.0 L710.4 501.8 L713.4 503.4 L716.4 504.9 L719.4 506.2 L722.4 507.5 L725.4 508.6 L728.4 509.5 L731.4 510.3 L734.4 510.9 L737.4 511.4 L740.4 511.8 L743.4 512.0 L746.4 512.0 L749.4 511.9 L752.4 511.6 L755.4 511.1" stroke-width="12" stroke-opacity="0.62"/>
<path d="M422.4 424.4 L425.4 424.1 L428.4 424.0 L431.4 424.0 L434.4 424.2 L437.4 424.6 L440.4 425.1 L443.4 425.7 L446.4 426.5 L449.4 427.5 L452.4 428.6 L455.4 429.8 L458.4 431.2 L461.4 432.7 L464.4 434.3 L467.4 436.0 L470.4 437.9 L473.4 439.9 L476.4 441.9 L479.4 444.1 L482.4 446.3 L485.4 448.7 L488.4 451.1 L491.4 453.5 L494.4 456.0 L497.4 458.5 L500.4 461.1 L503.4 463.7 L506.4 466.3 L509.4 469.0 L512.4 471.6 L515.4 474.2 L518.4 476.8 L521.4 479.3 L524.4 481.8 L527.4 484.3 L530.4 486.7 L533.4 489.0 L536.4 491.3 L539.4 493.5 L542.4 495.6 L545.4 497.6 L548.4 499.5 L551.4 501.2 L554.4 502.9 L557.4 504.4 L560.4 505.8 L563.4 507.1 L566.4 508.2 L569.4 509.2 L572.4 510.1 L575.4 510.8 L578.4 511.3 L581.4 511.7 L584.4 511.9 L587.4 512.0 L590.4 511.9 L593.4 511.7 L596.4 511.3 L599.4 510.7 L602.4 510.0 L605.4 509.2 L608.4 508.2 L611.4 507.1 L614.4 505.8 L617.4 504.4 L620.4 502.8 L623.4 501.2 L626.4 499.4 L629.4 497.5 L632.4 495.5 L635.4 493.4 L638.4 491.2 L641.4 489.0 L644.4 486.6 L647.4 484.2 L650.4 481.8 L653.4 479.2 L656.4 476.7 L659.4 474.1 L662.4 471.5 L665.4 468.9 L668.4 466.3 L671.4 463.6 L674.4 461.0 L677.4 458.5 L680.4 455.9 L683.4 453.4 L686.4 451.0 L689.4 448.6 L692.4 446.3 L695.4 444.0 L698.4 441.9 L701.4 439.8 L704.4 437.8 L707.4 436.0 L710.4 434.2 L713.4 432.6 L716.4 431.1 L719.4 429.8 L722.4 428.5 L725.4 427.4 L728.4 426.5 L731.4 425.7 L734.4 425.1 L737.4 424.6 L740.4 424.2 L743.4 424.0 L746.4 424.0 L749.4 424.1 L752.4 424.4 L755.4 424.9" stroke-width="12" stroke-opacity="0.62"/>

</g>
<text x="442.3" y="405.6" class="b" font-size="43.5" fill="#fff">c</text>
<text x="664.2" y="547" font-size="19.4" fill="#fff">2 ps</text>
<rect x="714.7" y="539.7" width="24.5" height="4.2" fill="#fff"/>
</g>
<defs><clipPath id="ec3"><rect x="789.8" y="371.5" width="315.5" height="180.29999999999995"/></clipPath>
<filter id="ef3" x="0" y="0" width="100%" height="100%" color-interpolation-filters="sRGB">
 <feGaussianBlur in="SourceAlpha" stdDeviation="5.4" result="I"/>
 <feTurbulence type="fractalNoise" baseFrequency="0.8" numOctaves="2" seed="63" result="n"/>
 <feColorMatrix in="n" type="matrix" values="0 0 0 0 0  0 0 0 0 0  0 0 0 0 0  1 0 0 0 0" result="n1"/>
 <feComponentTransfer in="n1" result="U"><feFuncA type="table" tableValues="0.0002 0.002 0.016 0.076 0.239 0.5 0.761 0.924 0.984 0.998 1"/></feComponentTransfer>
 <feComposite in="I" in2="U" operator="arithmetic" k1="0" k2="3.920" k3="-3.500" k4="0.185" result="d"/>
 <feComponentTransfer in="d" result="d2"><feFuncA type="linear" slope="0.82" intercept="0"/></feComponentTransfer>
 <feFlood flood-color="#76ead6" result="c"/>
 <feFlood flood-color="#2ca392" result="cb"/>
 <feComposite in="c" in2="d2" operator="in" result="dots"/>
 <feComponentTransfer in="I" result="Ib"><feFuncA type="linear" slope="0.5" intercept="0"/></feComponentTransfer>
 <feComposite in="cb" in2="Ib" operator="in" result="base"/>
 <feMerge result="m"><feMergeNode in="base"/><feMergeNode in="dots"/></feMerge>
 <feGaussianBlur in="m" stdDeviation="0.5"/>
</filter>
</defs>
<g clip-path="url(#ec3)">
<rect x="789.8" y="371.5" width="315.5" height="180.29999999999995" fill="#000"/>
<path d="M818.0 371.5 V551.8M888.5 371.5 V551.8M959.0 371.5 V551.8M1029.5 371.5 V551.8M1100.0 371.5 V551.8M789.8 426.0 H1105.3M789.8 464.0 H1105.3M789.8 533.0 H1105.3M789.8 547.0 H1105.3" stroke="#aaa" stroke-opacity="0.3" stroke-width="1" fill="none"/>
<path d="M792.8 462.5 v3M806.9 462.5 v3M821.0 462.5 v3M835.1 462.5 v3M849.2 462.5 v3M863.3 462.5 v3M877.4 462.5 v3M891.5 462.5 v3M905.6 462.5 v3M919.7 462.5 v3M933.8 462.5 v3M947.9 462.5 v3M962.0 462.5 v3M976.1 462.5 v3M990.2 462.5 v3M1004.3 462.5 v3M1018.4 462.5 v3M1032.5 462.5 v3M1046.6 462.5 v3M1060.7 462.5 v3M1074.8 462.5 v3M1088.9 462.5 v3M1103.0 462.5 v3" stroke="#bbb" stroke-opacity="0.45" stroke-width="1" fill="none"/>
<g filter="url(#ef3)" fill="none" stroke="#000" stroke-linecap="butt">
<rect x="769.8" y="351.5" width="355.5" height="220.29999999999995" fill="#000" fill-opacity="0.002" stroke="none"/>
<path d="M759.8 400.5 H1135.3" stroke-width="31" stroke-opacity="0.64"/>
<path d="M759.8 400.5 H1135.3" stroke-width="12" stroke-opacity="0.5"/>
<path d="M759.8 517.0 H1135.3" stroke-width="27" stroke-opacity="0.64"/>
<path d="M759.8 517.0 H1135.3" stroke-width="10" stroke-opacity="0.5"/>
<path d="M617.9 509.4 L620.9 509.4 L623.9 509.3 L626.9 509.2 L629.9 509.1 L632.9 508.9 L635.9 508.6 L638.9 508.2 L641.9 507.7 L644.9 507.1 L647.9 506.3 L650.9 505.3 L653.9 504.1 L656.9 502.8 L659.9 501.2 L662.9 499.5 L665.9 497.6 L668.9 495.6 L671.9 493.5 L674.9 491.2 L677.9 488.9 L680.9 486.5 L683.9 484.1 L686.9 481.6 L689.9 479.2 L692.9 476.7 L695.9 474.2 L698.9 471.6 L701.9 469.1 L704.9 466.6 L707.9 464.1 L710.9 461.6 L713.9 459.0 L716.9 456.5 L719.9 454.0 L722.9 451.5 L725.9 449.0 L728.9 446.4 L731.9 443.9 L734.9 441.4 L737.9 438.9 L740.9 436.3 L743.9 433.8 L746.9 431.3 L749.9 428.8 L752.9 426.3 L755.9 423.8 L758.9 421.3 L761.9 418.9 L764.9 416.4 L767.9 414.0 L770.9 411.7 L773.9 409.5 L776.9 407.3 L779.9 405.3 L782.9 403.5 L785.9 401.7 L788.9 400.2 L791.9 398.9 L794.9 397.7 L797.9 396.7 L800.9 395.9 L803.9 395.3 L806.9 394.8 L809.9 394.4 L812.9 394.1 L815.9 393.9" stroke-width="10" stroke-opacity="0.62"/>
<path d="M617.9 522.4 L620.9 522.4 L623.9 522.3 L626.9 522.2 L629.9 522.1 L632.9 521.9 L635.9 521.6 L638.9 521.2 L641.9 520.7 L644.9 520.1 L647.9 519.3 L650.9 518.3 L653.9 517.1 L656.9 515.8 L659.9 514.2 L662.9 512.5 L665.9 510.6 L668.9 508.6 L671.9 506.5 L674.9 504.2 L677.9 501.9 L680.9 499.5 L683.9 497.1 L686.9 494.6 L689.9 492.2 L692.9 489.7 L695.9 487.2 L698.9 484.6 L701.9 482.1 L704.9 479.6 L707.9 477.1 L710.9 474.6 L713.9 472.0 L716.9 469.5 L719.9 467.0 L722.9 464.5 L725.9 462.0 L728.9 459.4 L731.9 456.9 L734.9 454.4 L737.9 451.9 L740.9 449.3 L743.9 446.8 L746.9 444.3 L749.9 441.8 L752.9 439.3 L755.9 436.8 L758.9 434.3 L761.9 431.9 L764.9 429.4 L767.9 427.0 L770.9 424.7 L773.9 422.5 L776.9 420.3 L779.9 418.3 L782.9 416.5 L785.9 414.7 L788.9 413.2 L791.9 411.9 L794.9 410.7 L797.9 409.7 L800.9 408.9 L803.9 408.3 L806.9 407.8 L809.9 407.4 L812.9 407.1 L815.9 406.9" stroke-width="10" stroke-opacity="0.62"/>
<path d="M617.9 393.8 L620.9 394.0 L623.9 394.2 L626.9 394.5 L629.9 394.9 L632.9 395.5 L635.9 396.2 L638.9 397.0 L641.9 398.1 L644.9 399.3 L647.9 400.7 L650.9 402.3 L653.9 404.1 L656.9 406.0 L659.9 408.1 L662.9 410.3 L665.9 412.5 L668.9 414.9 L671.9 417.3 L674.9 419.7 L677.9 422.2 L680.9 424.7 L683.9 427.2 L686.9 429.7 L689.9 432.2 L692.9 434.7 L695.9 437.2 L698.9 439.8 L701.9 442.3 L704.9 444.8 L707.9 447.3 L710.9 449.8 L713.9 452.4 L716.9 454.9 L719.9 457.4 L722.9 459.9 L725.9 462.5 L728.9 465.0 L731.9 467.5 L734.9 470.0 L737.9 472.5 L740.9 475.0 L743.9 477.5 L746.9 480.0 L749.9 482.5 L752.9 485.0 L755.9 487.4 L758.9 489.7 L761.9 492.0 L764.9 494.2 L767.9 496.3 L770.9 498.3 L773.9 500.1 L776.9 501.8 L779.9 503.3 L782.9 504.6 L785.9 505.7 L788.9 506.6 L791.9 507.3 L794.9 507.9 L797.9 508.4 L800.9 508.7 L803.9 509.0 L806.9 509.2 L809.9 509.3 L812.9 509.4 L815.9 509.4" stroke-width="10" stroke-opacity="0.62"/>
<path d="M617.9 406.8 L620.9 407.0 L623.9 407.2 L626.9 407.5 L629.9 407.9 L632.9 408.5 L635.9 409.2 L638.9 410.0 L641.9 411.1 L644.9 412.3 L647.9 413.7 L650.9 415.3 L653.9 417.1 L656.9 419.0 L659.9 421.1 L662.9 423.3 L665.9 425.5 L668.9 427.9 L671.9 430.3 L674.9 432.7 L677.9 435.2 L680.9 437.7 L683.9 440.2 L686.9 442.7 L689.9 445.2 L692.9 447.7 L695.9 450.2 L698.9 452.8 L701.9 455.3 L704.9 457.8 L707.9 460.3 L710.9 462.8 L713.9 465.4 L716.9 467.9 L719.9 470.4 L722.9 472.9 L725.9 475.5 L728.9 478.0 L731.9 480.5 L734.9 483.0 L737.9 485.5 L740.9 488.0 L743.9 490.5 L746.9 493.0 L749.9 495.5 L752.9 498.0 L755.9 500.4 L758.9 502.7 L761.9 505.0 L764.9 507.2 L767.9 509.3 L770.9 511.3 L773.9 513.1 L776.9 514.8 L779.9 516.3 L782.9 517.6 L785.9 518.7 L788.9 519.6 L791.9 520.3 L794.9 520.9 L797.9 521.4 L800.9 521.7 L803.9 522.0 L806.9 522.2 L809.9 522.3 L812.9 522.4 L815.9 522.4" stroke-width="10" stroke-opacity="0.62"/>
<path d="M771.7 509.4 L774.7 509.4 L777.7 509.3 L780.7 509.2 L783.7 509.1 L786.7 508.9 L789.7 508.6 L792.7 508.2 L795.7 507.7 L798.7 507.1 L801.7 506.3 L804.7 505.3 L807.7 504.1 L810.7 502.8 L813.7 501.2 L816.7 499.5 L819.7 497.6 L822.7 495.6 L825.7 493.5 L828.7 491.2 L831.7 488.9 L834.7 486.5 L837.7 484.1 L840.7 481.6 L843.7 479.2 L846.7 476.7 L849.7 474.2 L852.7 471.6 L855.7 469.1 L858.7 466.6 L861.7 464.1 L864.7 461.6 L867.7 459.0 L870.7 456.5 L873.7 454.0 L876.7 451.5 L879.7 449.0 L882.7 446.4 L885.7 443.9 L888.7 441.4 L891.7 438.9 L894.7 436.3 L897.7 433.8 L900.7 431.3 L903.7 428.8 L906.7 426.3 L909.7 423.8 L912.7 421.3 L915.7 418.9 L918.7 416.4 L921.7 414.0 L924.7 411.7 L927.7 409.5 L930.7 407.3 L933.7 405.3 L936.7 403.5 L939.7 401.7 L942.7 400.2 L945.7 398.9 L948.7 397.7 L951.7 396.7 L954.7 395.9 L957.7 395.3 L960.7 394.8 L963.7 394.4 L966.7 394.1 L969.7 393.9" stroke-width="10" stroke-opacity="0.62"/>
<path d="M771.7 522.4 L774.7 522.4 L777.7 522.3 L780.7 522.2 L783.7 522.1 L786.7 521.9 L789.7 521.6 L792.7 521.2 L795.7 520.7 L798.7 520.1 L801.7 519.3 L804.7 518.3 L807.7 517.1 L810.7 515.8 L813.7 514.2 L816.7 512.5 L819.7 510.6 L822.7 508.6 L825.7 506.5 L828.7 504.2 L831.7 501.9 L834.7 499.5 L837.7 497.1 L840.7 494.6 L843.7 492.2 L846.7 489.7 L849.7 487.2 L852.7 484.6 L855.7 482.1 L858.7 479.6 L861.7 477.1 L864.7 474.6 L867.7 472.0 L870.7 469.5 L873.7 467.0 L876.7 464.5 L879.7 462.0 L882.7 459.4 L885.7 456.9 L888.7 454.4 L891.7 451.9 L894.7 449.3 L897.7 446.8 L900.7 444.3 L903.7 441.8 L906.7 439.3 L909.7 436.8 L912.7 434.3 L915.7 431.9 L918.7 429.4 L921.7 427.0 L924.7 424.7 L927.7 422.5 L930.7 420.3 L933.7 418.3 L936.7 416.5 L939.7 414.7 L942.7 413.2 L945.7 411.9 L948.7 410.7 L951.7 409.7 L954.7 408.9 L957.7 408.3 L960.7 407.8 L963.7 407.4 L966.7 407.1 L969.7 406.9" stroke-width="10" stroke-opacity="0.62"/>
<path d="M771.7 393.8 L774.7 394.0 L777.7 394.2 L780.7 394.5 L783.7 394.9 L786.7 395.5 L789.7 396.2 L792.7 397.0 L795.7 398.1 L798.7 399.3 L801.7 400.7 L804.7 402.3 L807.7 404.1 L810.7 406.0 L813.7 408.1 L816.7 410.3 L819.7 412.5 L822.7 414.9 L825.7 417.3 L828.7 419.7 L831.7 422.2 L834.7 424.7 L837.7 427.2 L840.7 429.7 L843.7 432.2 L846.7 434.7 L849.7 437.2 L852.7 439.8 L855.7 442.3 L858.7 444.8 L861.7 447.3 L864.7 449.8 L867.7 452.4 L870.7 454.9 L873.7 457.4 L876.7 459.9 L879.7 462.5 L882.7 465.0 L885.7 467.5 L888.7 470.0 L891.7 472.5 L894.7 475.0 L897.7 477.5 L900.7 480.0 L903.7 482.5 L906.7 485.0 L909.7 487.4 L912.7 489.7 L915.7 492.0 L918.7 494.2 L921.7 496.3 L924.7 498.3 L927.7 500.1 L930.7 501.8 L933.7 503.3 L936.7 504.6 L939.7 505.7 L942.7 506.6 L945.7 507.3 L948.7 507.9 L951.7 508.4 L954.7 508.7 L957.7 509.0 L960.7 509.2 L963.7 509.3 L966.7 509.4 L969.7 509.4" stroke-width="10" stroke-opacity="0.62"/>
<path d="M771.7 406.8 L774.7 407.0 L777.7 407.2 L780.7 407.5 L783.7 407.9 L786.7 408.5 L789.7 409.2 L792.7 410.0 L795.7 411.1 L798.7 412.3 L801.7 413.7 L804.7 415.3 L807.7 417.1 L810.7 419.0 L813.7 421.1 L816.7 423.3 L819.7 425.5 L822.7 427.9 L825.7 430.3 L828.7 432.7 L831.7 435.2 L834.7 437.7 L837.7 440.2 L840.7 442.7 L843.7 445.2 L846.7 447.7 L849.7 450.2 L852.7 452.8 L855.7 455.3 L858.7 457.8 L861.7 460.3 L864.7 462.8 L867.7 465.4 L870.7 467.9 L873.7 470.4 L876.7 472.9 L879.7 475.5 L882.7 478.0 L885.7 480.5 L888.7 483.0 L891.7 485.5 L894.7 488.0 L897.7 490.5 L900.7 493.0 L903.7 495.5 L906.7 498.0 L909.7 500.4 L912.7 502.7 L915.7 505.0 L918.7 507.2 L921.7 509.3 L924.7 511.3 L927.7 513.1 L930.7 514.8 L933.7 516.3 L936.7 517.6 L939.7 518.7 L942.7 519.6 L945.7 520.3 L948.7 520.9 L951.7 521.4 L954.7 521.7 L957.7 522.0 L960.7 522.2 L963.7 522.3 L966.7 522.4 L969.7 522.4" stroke-width="10" stroke-opacity="0.62"/>
<path d="M925.5 509.4 L928.5 509.4 L931.5 509.3 L934.5 509.2 L937.5 509.1 L940.5 508.9 L943.5 508.6 L946.5 508.2 L949.5 507.7 L952.5 507.1 L955.5 506.3 L958.5 505.3 L961.5 504.1 L964.5 502.8 L967.5 501.2 L970.5 499.5 L973.5 497.6 L976.5 495.6 L979.5 493.5 L982.5 491.2 L985.5 488.9 L988.5 486.5 L991.5 484.1 L994.5 481.6 L997.5 479.2 L1000.5 476.7 L1003.5 474.2 L1006.5 471.6 L1009.5 469.1 L1012.5 466.6 L1015.5 464.1 L1018.5 461.6 L1021.5 459.0 L1024.5 456.5 L1027.5 454.0 L1030.5 451.5 L1033.5 449.0 L1036.5 446.4 L1039.5 443.9 L1042.5 441.4 L1045.5 438.9 L1048.5 436.3 L1051.5 433.8 L1054.5 431.3 L1057.5 428.8 L1060.5 426.3 L1063.5 423.8 L1066.5 421.3 L1069.5 418.9 L1072.5 416.4 L1075.5 414.0 L1078.5 411.7 L1081.5 409.5 L1084.5 407.3 L1087.5 405.3 L1090.5 403.5 L1093.5 401.7 L1096.5 400.2 L1099.5 398.9 L1102.5 397.7 L1105.5 396.7 L1108.5 395.9 L1111.5 395.3 L1114.5 394.8 L1117.5 394.4 L1120.5 394.1 L1123.5 393.9" stroke-width="10" stroke-opacity="0.62"/>
<path d="M925.5 522.4 L928.5 522.4 L931.5 522.3 L934.5 522.2 L937.5 522.1 L940.5 521.9 L943.5 521.6 L946.5 521.2 L949.5 520.7 L952.5 520.1 L955.5 519.3 L958.5 518.3 L961.5 517.1 L964.5 515.8 L967.5 514.2 L970.5 512.5 L973.5 510.6 L976.5 508.6 L979.5 506.5 L982.5 504.2 L985.5 501.9 L988.5 499.5 L991.5 497.1 L994.5 494.6 L997.5 492.2 L1000.5 489.7 L1003.5 487.2 L1006.5 484.6 L1009.5 482.1 L1012.5 479.6 L1015.5 477.1 L1018.5 474.6 L1021.5 472.0 L1024.5 469.5 L1027.5 467.0 L1030.5 464.5 L1033.5 462.0 L1036.5 459.4 L1039.5 456.9 L1042.5 454.4 L1045.5 451.9 L1048.5 449.3 L1051.5 446.8 L1054.5 444.3 L1057.5 441.8 L1060.5 439.3 L1063.5 436.8 L1066.5 434.3 L1069.5 431.9 L1072.5 429.4 L1075.5 427.0 L1078.5 424.7 L1081.5 422.5 L1084.5 420.3 L1087.5 418.3 L1090.5 416.5 L1093.5 414.7 L1096.5 413.2 L1099.5 411.9 L1102.5 410.7 L1105.5 409.7 L1108.5 408.9 L1111.5 408.3 L1114.5 407.8 L1117.5 407.4 L1120.5 407.1 L1123.5 406.9" stroke-width="10" stroke-opacity="0.62"/>
<path d="M925.5 393.8 L928.5 394.0 L931.5 394.2 L934.5 394.5 L937.5 394.9 L940.5 395.5 L943.5 396.2 L946.5 397.0 L949.5 398.1 L952.5 399.3 L955.5 400.7 L958.5 402.3 L961.5 404.1 L964.5 406.0 L967.5 408.1 L970.5 410.3 L973.5 412.5 L976.5 414.9 L979.5 417.3 L982.5 419.7 L985.5 422.2 L988.5 424.7 L991.5 427.2 L994.5 429.7 L997.5 432.2 L1000.5 434.7 L1003.5 437.2 L1006.5 439.8 L1009.5 442.3 L1012.5 444.8 L1015.5 447.3 L1018.5 449.8 L1021.5 452.4 L1024.5 454.9 L1027.5 457.4 L1030.5 459.9 L1033.5 462.5 L1036.5 465.0 L1039.5 467.5 L1042.5 470.0 L1045.5 472.5 L1048.5 475.0 L1051.5 477.5 L1054.5 480.0 L1057.5 482.5 L1060.5 485.0 L1063.5 487.4 L1066.5 489.7 L1069.5 492.0 L1072.5 494.2 L1075.5 496.3 L1078.5 498.3 L1081.5 500.1 L1084.5 501.8 L1087.5 503.3 L1090.5 504.6 L1093.5 505.7 L1096.5 506.6 L1099.5 507.3 L1102.5 507.9 L1105.5 508.4 L1108.5 508.7 L1111.5 509.0 L1114.5 509.2 L1117.5 509.3 L1120.5 509.4 L1123.5 509.4" stroke-width="10" stroke-opacity="0.62"/>
<path d="M925.5 406.8 L928.5 407.0 L931.5 407.2 L934.5 407.5 L937.5 407.9 L940.5 408.5 L943.5 409.2 L946.5 410.0 L949.5 411.1 L952.5 412.3 L955.5 413.7 L958.5 415.3 L961.5 417.1 L964.5 419.0 L967.5 421.1 L970.5 423.3 L973.5 425.5 L976.5 427.9 L979.5 430.3 L982.5 432.7 L985.5 435.2 L988.5 437.7 L991.5 440.2 L994.5 442.7 L997.5 445.2 L1000.5 447.7 L1003.5 450.2 L1006.5 452.8 L1009.5 455.3 L1012.5 457.8 L1015.5 460.3 L1018.5 462.8 L1021.5 465.4 L1024.5 467.9 L1027.5 470.4 L1030.5 472.9 L1033.5 475.5 L1036.5 478.0 L1039.5 480.5 L1042.5 483.0 L1045.5 485.5 L1048.5 488.0 L1051.5 490.5 L1054.5 493.0 L1057.5 495.5 L1060.5 498.0 L1063.5 500.4 L1066.5 502.7 L1069.5 505.0 L1072.5 507.2 L1075.5 509.3 L1078.5 511.3 L1081.5 513.1 L1084.5 514.8 L1087.5 516.3 L1090.5 517.6 L1093.5 518.7 L1096.5 519.6 L1099.5 520.3 L1102.5 520.9 L1105.5 521.4 L1108.5 521.7 L1111.5 522.0 L1114.5 522.2 L1117.5 522.3 L1120.5 522.4 L1123.5 522.4" stroke-width="10" stroke-opacity="0.62"/>
<path d="M1079.3 509.4 L1082.3 509.4 L1085.3 509.3 L1088.3 509.2 L1091.3 509.1 L1094.3 508.9 L1097.3 508.6 L1100.3 508.2 L1103.3 507.7 L1106.3 507.1 L1109.3 506.3 L1112.3 505.3 L1115.3 504.1 L1118.3 502.8 L1121.3 501.2 L1124.3 499.5 L1127.3 497.6 L1130.3 495.6 L1133.3 493.5 L1136.3 491.2 L1139.3 488.9 L1142.3 486.5 L1145.3 484.1 L1148.3 481.6 L1151.3 479.2 L1154.3 476.7 L1157.3 474.2 L1160.3 471.6 L1163.3 469.1 L1166.3 466.6 L1169.3 464.1 L1172.3 461.6 L1175.3 459.0 L1178.3 456.5 L1181.3 454.0 L1184.3 451.5 L1187.3 449.0 L1190.3 446.4 L1193.3 443.9 L1196.3 441.4 L1199.3 438.9 L1202.3 436.3 L1205.3 433.8 L1208.3 431.3 L1211.3 428.8 L1214.3 426.3 L1217.3 423.8 L1220.3 421.3 L1223.3 418.9 L1226.3 416.4 L1229.3 414.0 L1232.3 411.7 L1235.3 409.5 L1238.3 407.3 L1241.3 405.3 L1244.3 403.5 L1247.3 401.7 L1250.3 400.2 L1253.3 398.9 L1256.3 397.7 L1259.3 396.7 L1262.3 395.9 L1265.3 395.3 L1268.3 394.8 L1271.3 394.4 L1274.3 394.1 L1277.3 393.9" stroke-width="10" stroke-opacity="0.62"/>
<path d="M1079.3 522.4 L1082.3 522.4 L1085.3 522.3 L1088.3 522.2 L1091.3 522.1 L1094.3 521.9 L1097.3 521.6 L1100.3 521.2 L1103.3 520.7 L1106.3 520.1 L1109.3 519.3 L1112.3 518.3 L1115.3 517.1 L1118.3 515.8 L1121.3 514.2 L1124.3 512.5 L1127.3 510.6 L1130.3 508.6 L1133.3 506.5 L1136.3 504.2 L1139.3 501.9 L1142.3 499.5 L1145.3 497.1 L1148.3 494.6 L1151.3 492.2 L1154.3 489.7 L1157.3 487.2 L1160.3 484.6 L1163.3 482.1 L1166.3 479.6 L1169.3 477.1 L1172.3 474.6 L1175.3 472.0 L1178.3 469.5 L1181.3 467.0 L1184.3 464.5 L1187.3 462.0 L1190.3 459.4 L1193.3 456.9 L1196.3 454.4 L1199.3 451.9 L1202.3 449.3 L1205.3 446.8 L1208.3 444.3 L1211.3 441.8 L1214.3 439.3 L1217.3 436.8 L1220.3 434.3 L1223.3 431.9 L1226.3 429.4 L1229.3 427.0 L1232.3 424.7 L1235.3 422.5 L1238.3 420.3 L1241.3 418.3 L1244.3 416.5 L1247.3 414.7 L1250.3 413.2 L1253.3 411.9 L1256.3 410.7 L1259.3 409.7 L1262.3 408.9 L1265.3 408.3 L1268.3 407.8 L1271.3 407.4 L1274.3 407.1 L1277.3 406.9" stroke-width="10" stroke-opacity="0.62"/>
<path d="M1079.3 393.8 L1082.3 394.0 L1085.3 394.2 L1088.3 394.5 L1091.3 394.9 L1094.3 395.5 L1097.3 396.2 L1100.3 397.0 L1103.3 398.1 L1106.3 399.3 L1109.3 400.7 L1112.3 402.3 L1115.3 404.1 L1118.3 406.0 L1121.3 408.1 L1124.3 410.3 L1127.3 412.5 L1130.3 414.9 L1133.3 417.3 L1136.3 419.7 L1139.3 422.2 L1142.3 424.7 L1145.3 427.2 L1148.3 429.7 L1151.3 432.2 L1154.3 434.7 L1157.3 437.2 L1160.3 439.8 L1163.3 442.3 L1166.3 444.8 L1169.3 447.3 L1172.3 449.8 L1175.3 452.4 L1178.3 454.9 L1181.3 457.4 L1184.3 459.9 L1187.3 462.5 L1190.3 465.0 L1193.3 467.5 L1196.3 470.0 L1199.3 472.5 L1202.3 475.0 L1205.3 477.5 L1208.3 480.0 L1211.3 482.5 L1214.3 485.0 L1217.3 487.4 L1220.3 489.7 L1223.3 492.0 L1226.3 494.2 L1229.3 496.3 L1232.3 498.3 L1235.3 500.1 L1238.3 501.8 L1241.3 503.3 L1244.3 504.6 L1247.3 505.7 L1250.3 506.6 L1253.3 507.3 L1256.3 507.9 L1259.3 508.4 L1262.3 508.7 L1265.3 509.0 L1268.3 509.2 L1271.3 509.3 L1274.3 509.4 L1277.3 509.4" stroke-width="10" stroke-opacity="0.62"/>
<path d="M1079.3 406.8 L1082.3 407.0 L1085.3 407.2 L1088.3 407.5 L1091.3 407.9 L1094.3 408.5 L1097.3 409.2 L1100.3 410.0 L1103.3 411.1 L1106.3 412.3 L1109.3 413.7 L1112.3 415.3 L1115.3 417.1 L1118.3 419.0 L1121.3 421.1 L1124.3 423.3 L1127.3 425.5 L1130.3 427.9 L1133.3 430.3 L1136.3 432.7 L1139.3 435.2 L1142.3 437.7 L1145.3 440.2 L1148.3 442.7 L1151.3 445.2 L1154.3 447.7 L1157.3 450.2 L1160.3 452.8 L1163.3 455.3 L1166.3 457.8 L1169.3 460.3 L1172.3 462.8 L1175.3 465.4 L1178.3 467.9 L1181.3 470.4 L1184.3 472.9 L1187.3 475.5 L1190.3 478.0 L1193.3 480.5 L1196.3 483.0 L1199.3 485.5 L1202.3 488.0 L1205.3 490.5 L1208.3 493.0 L1211.3 495.5 L1214.3 498.0 L1217.3 500.4 L1220.3 502.7 L1223.3 505.0 L1226.3 507.2 L1229.3 509.3 L1232.3 511.3 L1235.3 513.1 L1238.3 514.8 L1241.3 516.3 L1244.3 517.6 L1247.3 518.7 L1250.3 519.6 L1253.3 520.3 L1256.3 520.9 L1259.3 521.4 L1262.3 521.7 L1265.3 522.0 L1268.3 522.2 L1271.3 522.3 L1274.3 522.4 L1277.3 522.4" stroke-width="10" stroke-opacity="0.62"/>
<path d="M779.8 493.6 L782.8 494.1 L785.8 494.5 L788.8 494.8 L791.8 494.9 L794.8 495.0 L797.8 494.9 L800.8 494.8 L803.8 494.5 L806.8 494.1 L809.8 493.6 L812.8 492.9 L815.8 492.2 L818.8 491.3 L821.8 490.4 L824.8 489.4 L827.8 488.2 L830.8 487.0 L833.8 485.7 L836.8 484.3 L839.8 482.8 L842.8 481.3 L845.8 479.6 L848.8 478.0 L851.8 476.3 L854.8 474.5 L857.8 472.7 L860.8 470.8 L863.8 469.0 L866.8 467.1 L869.8 465.2 L872.8 463.3 L875.8 461.4 L878.8 459.5 L881.8 457.6 L884.8 455.8 L887.8 454.0 L890.8 452.2 L893.8 450.5 L896.8 448.8 L899.8 447.2 L902.8 445.6 L905.8 444.1 L908.8 442.7 L911.8 441.4 L914.8 440.1 L917.8 438.9 L920.8 437.9 L923.8 436.9 L926.8 436.0 L929.8 435.3 L932.8 434.6 L935.8 434.1 L938.8 433.6 L941.8 433.3 L944.8 433.1 L947.8 433.0 L950.8 433.0 L953.8 433.2 L956.8 433.4 L959.8 433.8 L962.8 434.3 L965.8 434.9 L968.8 435.6 L971.8 436.4 L974.8 437.3 L977.8 438.4 L980.8 439.5 L983.8 440.7 L986.8 442.0 L989.8 443.3 L992.8 444.8 L995.8 446.3 L998.8 447.9 L1001.8 449.6 L1004.8 451.3 L1007.8 453.0 L1010.8 454.8 L1013.8 456.7 L1016.8 458.5 L1019.8 460.4 L1022.8 462.3 L1025.8 464.2 L1028.8 466.1 L1031.8 468.0 L1034.8 469.9 L1037.8 471.7 L1040.8 473.5 L1043.8 475.3 L1046.8 477.1 L1049.8 478.8 L1052.8 480.4 L1055.8 482.0 L1058.8 483.5 L1061.8 484.9 L1064.8 486.3 L1067.8 487.6 L1070.8 488.8 L1073.8 489.9 L1076.8 490.9 L1079.8 491.8 L1082.8 492.5 L1085.8 493.2 L1088.8 493.8 L1091.8 494.3 L1094.8 494.6 L1097.8 494.9 L1100.8 495.0 L1103.8 495.0 L1106.8 494.9 L1109.8 494.6 L1112.8 494.3" stroke-width="17" stroke-opacity="0.64"/>
<path d="M779.8 434.4 L782.8 433.9 L785.8 433.5 L788.8 433.2 L791.8 433.1 L794.8 433.0 L797.8 433.1 L800.8 433.2 L803.8 433.5 L806.8 433.9 L809.8 434.4 L812.8 435.1 L815.8 435.8 L818.8 436.7 L821.8 437.6 L824.8 438.6 L827.8 439.8 L830.8 441.0 L833.8 442.3 L836.8 443.7 L839.8 445.2 L842.8 446.7 L845.8 448.4 L848.8 450.0 L851.8 451.7 L854.8 453.5 L857.8 455.3 L860.8 457.2 L863.8 459.0 L866.8 460.9 L869.8 462.8 L872.8 464.7 L875.8 466.6 L878.8 468.5 L881.8 470.4 L884.8 472.2 L887.8 474.0 L890.8 475.8 L893.8 477.5 L896.8 479.2 L899.8 480.8 L902.8 482.4 L905.8 483.9 L908.8 485.3 L911.8 486.6 L914.8 487.9 L917.8 489.1 L920.8 490.1 L923.8 491.1 L926.8 492.0 L929.8 492.7 L932.8 493.4 L935.8 493.9 L938.8 494.4 L941.8 494.7 L944.8 494.9 L947.8 495.0 L950.8 495.0 L953.8 494.8 L956.8 494.6 L959.8 494.2 L962.8 493.7 L965.8 493.1 L968.8 492.4 L971.8 491.6 L974.8 490.7 L977.8 489.6 L980.8 488.5 L983.8 487.3 L986.8 486.0 L989.8 484.7 L992.8 483.2 L995.8 481.7 L998.8 480.1 L1001.8 478.4 L1004.8 476.7 L1007.8 475.0 L1010.8 473.2 L1013.8 471.3 L1016.8 469.5 L1019.8 467.6 L1022.8 465.7 L1025.8 463.8 L1028.8 461.9 L1031.8 460.0 L1034.8 458.1 L1037.8 456.3 L1040.8 454.5 L1043.8 452.7 L1046.8 450.9 L1049.8 449.2 L1052.8 447.6 L1055.8 446.0 L1058.8 444.5 L1061.8 443.1 L1064.8 441.7 L1067.8 440.4 L1070.8 439.2 L1073.8 438.1 L1076.8 437.1 L1079.8 436.2 L1082.8 435.5 L1085.8 434.8 L1088.8 434.2 L1091.8 433.7 L1094.8 433.4 L1097.8 433.1 L1100.8 433.0 L1103.8 433.0 L1106.8 433.1 L1109.8 433.4 L1112.8 433.7" stroke-width="17" stroke-opacity="0.64"/>

</g>
<text x="795.6" y="405" class="b" font-size="43.5" fill="#fff">d</text>
<text x="1017" y="547" font-size="19.4" fill="#fff">2 ps</text>
<rect x="1065.6" y="539.7" width="32.40000000000009" height="4.2" fill="#fff"/>
</g>
<defs><filter id="mbe" x="-20%" y="-50%" width="140%" height="200%"><feGaussianBlur stdDeviation="8"/></filter>
<mask id="me" maskUnits="userSpaceOnUse" x="1100" y="340" width="440" height="240">
<rect x="1100" y="340" width="440" height="240" fill="#fff"/>
<g filter="url(#mbe)" fill="#000">
<ellipse cx="1315.3" cy="464" rx="40" ry="13.5"/>
<ellipse cx="1160" cy="466.5" rx="38" ry="13.5"/>
<ellipse cx="1470" cy="465" rx="38" ry="13.5"/>
<ellipse cx="1239.5" cy="425.7" rx="46" ry="11.5" fill-opacity="0.9"/>
<ellipse cx="1391.2" cy="425.7" rx="46" ry="11.5" fill-opacity="0.9"/>
<ellipse cx="1237.3" cy="497.4" rx="44" ry="11" fill-opacity="0.86"/>
<ellipse cx="1384.7" cy="497.4" rx="44" ry="11" fill-opacity="0.86"/>
</g></mask></defs>
<defs><clipPath id="ec4"><rect x="1160.4" y="371.5" width="315.6999999999998" height="180.29999999999995"/></clipPath>
<filter id="ef4" x="0" y="0" width="100%" height="100%" color-interpolation-filters="sRGB">
 <feGaussianBlur in="SourceAlpha" stdDeviation="4.2" result="I"/>
 <feTurbulence type="fractalNoise" baseFrequency="0.8" numOctaves="2" seed="51" result="n"/>
 <feColorMatrix in="n" type="matrix" values="0 0 0 0 0  0 0 0 0 0  0 0 0 0 0  1 0 0 0 0" result="n1"/>
 <feComponentTransfer in="n1" result="U"><feFuncA type="table" tableValues="0.0002 0.002 0.016 0.076 0.239 0.5 0.761 0.924 0.984 0.998 1"/></feComponentTransfer>
 <feComposite in="I" in2="U" operator="arithmetic" k1="0" k2="3.920" k3="-3.500" k4="0.185" result="d"/>
 <feComponentTransfer in="d" result="d2"><feFuncA type="linear" slope="0.82" intercept="0"/></feComponentTransfer>
 <feFlood flood-color="#76ead6" result="c"/>
 <feFlood flood-color="#2ca392" result="cb"/>
 <feComposite in="c" in2="d2" operator="in" result="dots"/>
 <feComponentTransfer in="I" result="Ib"><feFuncA type="linear" slope="0.5" intercept="0"/></feComponentTransfer>
 <feComposite in="cb" in2="Ib" operator="in" result="base"/>
 <feMerge result="m"><feMergeNode in="base"/><feMergeNode in="dots"/></feMerge>
 <feGaussianBlur in="m" stdDeviation="0.5"/>
</filter>
</defs>
<g clip-path="url(#ec4)">
<rect x="1160.4" y="371.5" width="315.6999999999998" height="180.29999999999995" fill="#000"/>
<path d="M1230.0 371.5 V551.8M1314.0 371.5 V551.8M1398.0 371.5 V551.8M1160.4 383.0 H1476.1M1160.4 464.0 H1476.1M1160.4 540.0 H1476.1" stroke="#aaa" stroke-opacity="0.3" stroke-width="1" fill="none"/>
<path d="M1163.4 462.5 v3M1180.2 462.5 v3M1197.0 462.5 v3M1213.8 462.5 v3M1230.6 462.5 v3M1247.4 462.5 v3M1264.2 462.5 v3M1281.0 462.5 v3M1297.8 462.5 v3M1314.6 462.5 v3M1331.4 462.5 v3M1348.2 462.5 v3M1365.0 462.5 v3M1381.8 462.5 v3M1398.6 462.5 v3M1415.4 462.5 v3M1432.2 462.5 v3M1449.0 462.5 v3M1465.8 462.5 v3" stroke="#bbb" stroke-opacity="0.45" stroke-width="1" fill="none"/>
<g filter="url(#ef4)" fill="none" stroke="#000" stroke-linecap="butt">
<rect x="1140.4" y="351.5" width="355.6999999999998" height="220.29999999999995" fill="#000" fill-opacity="0.002" stroke="none"/>
<g mask="url(#me)"><rect x="1100" y="387.5" width="440" height="142" fill="#000" fill-opacity="0.78" stroke="none"/></g>
</g>
<text x="1176" y="403.2" class="b" font-size="43.5" fill="#fff">e</text>
<text x="1406.4" y="543.6" font-size="19.4" fill="#fff">1 ps</text>
<rect x="1454.4" y="536.3000000000001" width="19.199999999999818" height="4.2" fill="#fff"/>
</g>
<g class="b" font-size="24.4" fill="#000">
<text x="77.8" y="573.6" textLength="300.5" lengthAdjust="spacingAndGlyphs">50 Gbps NRZ (50 GBaud)</text>
<text x="440" y="573.6" textLength="300.5" lengthAdjust="spacingAndGlyphs">70 Gbps NRZ (70 GBaud)</text>
<text x="797" y="573.6" textLength="300.5" lengthAdjust="spacingAndGlyphs">90 Gbps NRZ (90 GBaud)</text>
<text x="1154" y="573.6" textLength="327" lengthAdjust="spacingAndGlyphs">110 Gbps NRZ (110 GBaud)</text>
</g>
<g id="pf">
<text x="19" y="631.2" class="b" font-size="45" fill="#000">f</text>
<path d="M111.2 794.5H716.6" stroke="#777" stroke-width="3.6" stroke-dasharray="8.3 6.74" fill="none"/>
<path d="M111.3 864.4H716.6" stroke="#777" stroke-width="3.4" stroke-dasharray="17 16.55" fill="none"/>
<text x="154" y="813.3" font-size="24.6" fill="#000" textLength="93.6" lengthAdjust="spacingAndGlyphs">SD-FEC</text>
<text x="154" y="882.3" font-size="24.6" fill="#000" textLength="93.6" lengthAdjust="spacingAndGlyphs">HD-FEC</text>
<path d="M182.0 756.7L221.2 778.9M242.9 790.9L281.6 812.0M302.7 824.9L343.0 852.8M364.0 865.9L402.8 887.6M424.6 899.5L463.2 919.7M485.7 930.0L523.3 944.8M546.0 954.5L584.0 972.3M603.9 986.4L647.3 1031.0" fill="none" stroke="#43aa79" stroke-width="3.2" stroke-linecap="round"/>
<path d="M171.2 741.8L178.7 755.0L163.7 755.0Z" fill="#fff" stroke="#43aa79" stroke-width="3.4" stroke-linejoin="round"/>
<path d="M232.0 776.2L239.5 789.4L224.5 789.4Z" fill="#fff" stroke="#43aa79" stroke-width="3.4" stroke-linejoin="round"/>
<path d="M292.5 809.1L300.0 822.3L285.0 822.3Z" fill="#fff" stroke="#43aa79" stroke-width="3.4" stroke-linejoin="round"/>
<path d="M353.2 851.0L360.7 864.2L345.7 864.2Z" fill="#fff" stroke="#43aa79" stroke-width="3.4" stroke-linejoin="round"/>
<path d="M413.6 884.9L421.1 898.1L406.1 898.1Z" fill="#fff" stroke="#43aa79" stroke-width="3.4" stroke-linejoin="round"/>
<path d="M474.2 916.7L481.7 929.9L466.7 929.9Z" fill="#fff" stroke="#43aa79" stroke-width="3.4" stroke-linejoin="round"/>
<path d="M534.8 940.5L542.3 953.7L527.3 953.7Z" fill="#fff" stroke="#43aa79" stroke-width="3.4" stroke-linejoin="round"/>
<path d="M595.2 968.7L602.7 981.9L587.7 981.9Z" fill="#fff" stroke="#43aa79" stroke-width="3.4" stroke-linejoin="round"/>
<path d="M656.0 1031.1L663.5 1044.3L648.5 1044.3Z" fill="#fff" stroke="#43aa79" stroke-width="3.4" stroke-linejoin="round"/>
<path d="M182.0 737.6L221.2 748.3M242.7 754.4L281.8 766.1M302.7 774.0L343.0 792.5M363.5 801.6L403.3 818.8M423.6 828.2L464.2 848.5M484.6 857.6L524.4 873.5M544.7 882.9L585.3 904.6M605.4 914.4L645.8 932.2" fill="none" stroke="#7068b8" stroke-width="3.2" stroke-linecap="round"/>
<rect x="166.0" y="729.5" width="10.4" height="10.4" fill="#fff" stroke="#7068b8" stroke-width="3.5" stroke-linejoin="round"/>
<rect x="226.8" y="746.0" width="10.4" height="10.4" fill="#fff" stroke="#7068b8" stroke-width="3.5" stroke-linejoin="round"/>
<rect x="287.3" y="764.1" width="10.4" height="10.4" fill="#fff" stroke="#7068b8" stroke-width="3.5" stroke-linejoin="round"/>
<rect x="348.0" y="792.0" width="10.4" height="10.4" fill="#fff" stroke="#7068b8" stroke-width="3.5" stroke-linejoin="round"/>
<rect x="408.4" y="818.0" width="10.4" height="10.4" fill="#fff" stroke="#7068b8" stroke-width="3.5" stroke-linejoin="round"/>
<rect x="469.0" y="848.3" width="10.4" height="10.4" fill="#fff" stroke="#7068b8" stroke-width="3.5" stroke-linejoin="round"/>
<rect x="529.6" y="872.4" width="10.4" height="10.4" fill="#fff" stroke="#7068b8" stroke-width="3.5" stroke-linejoin="round"/>
<rect x="590.0" y="904.7" width="10.4" height="10.4" fill="#fff" stroke="#7068b8" stroke-width="3.5" stroke-linejoin="round"/>
<rect x="650.8" y="931.5" width="10.4" height="10.4" fill="#fff" stroke="#7068b8" stroke-width="3.5" stroke-linejoin="round"/>
<path d="M181.9 728.8L221.3 736.6M242.7 740.9L281.8 749.0M303.3 752.9L342.4 759.0M363.6 763.9L403.2 776.1M424.1 782.2L463.7 793.0M483.8 801.1L525.2 823.4M544.4 833.7L585.6 855.3M605.7 863.3L645.5 874.4" fill="none" stroke="#deab25" stroke-width="3.2" stroke-linecap="round"/>
<circle cx="171.2" cy="726.7" r="6" fill="#fff" stroke="#deab25" stroke-width="3.6"/>
<circle cx="232.0" cy="738.7" r="6" fill="#fff" stroke="#deab25" stroke-width="3.6"/>
<circle cx="292.5" cy="751.2" r="6" fill="#fff" stroke="#deab25" stroke-width="3.6"/>
<circle cx="353.2" cy="760.7" r="6" fill="#fff" stroke="#deab25" stroke-width="3.6"/>
<circle cx="413.6" cy="779.3" r="6" fill="#fff" stroke="#deab25" stroke-width="3.6"/>
<circle cx="474.2" cy="795.9" r="6" fill="#fff" stroke="#deab25" stroke-width="3.6"/>
<circle cx="534.8" cy="828.6" r="6" fill="#fff" stroke="#deab25" stroke-width="3.6"/>
<circle cx="595.2" cy="860.4" r="6" fill="#fff" stroke="#deab25" stroke-width="3.6"/>
<circle cx="656.0" cy="877.3" r="6" fill="#fff" stroke="#deab25" stroke-width="3.6"/>
<path d="M180.3 691.1L222.9 705.4M241.3 711.0L283.2 722.3M302.0 726.1L343.7 732.0M362.6 735.3L404.2 744.0M422.9 748.2L464.9 758.1M483.5 762.6L525.5 772.8M544.1 777.4L585.9 787.7M603.7 794.4L647.5 816.8" fill="none" stroke="#db5614" stroke-width="3.2" stroke-linecap="round"/>
<path d="M171.2 681.7L177.5 688.0L171.2 694.3L164.9 688.0Z" fill="#fff" stroke="#db5614" stroke-width="3.1" stroke-linejoin="miter"/>
<path d="M232.0 702.2L238.3 708.5L232.0 714.8L225.7 708.5Z" fill="#fff" stroke="#db5614" stroke-width="3.1" stroke-linejoin="miter"/>
<path d="M292.5 718.5L298.8 724.8L292.5 731.1L286.2 724.8Z" fill="#fff" stroke="#db5614" stroke-width="3.1" stroke-linejoin="miter"/>
<path d="M353.2 727.0L359.5 733.3L353.2 739.6L346.9 733.3Z" fill="#fff" stroke="#db5614" stroke-width="3.1" stroke-linejoin="miter"/>
<path d="M413.6 739.7L419.9 746.0L413.6 752.3L407.3 746.0Z" fill="#fff" stroke="#db5614" stroke-width="3.1" stroke-linejoin="miter"/>
<path d="M474.2 754.0L480.5 760.3L474.2 766.6L467.9 760.3Z" fill="#fff" stroke="#db5614" stroke-width="3.1" stroke-linejoin="miter"/>
<path d="M534.8 768.8L541.1 775.1L534.8 781.4L528.5 775.1Z" fill="#fff" stroke="#db5614" stroke-width="3.1" stroke-linejoin="miter"/>
<path d="M595.2 783.7L601.5 790.0L595.2 796.3L588.9 790.0Z" fill="#fff" stroke="#db5614" stroke-width="3.1" stroke-linejoin="miter"/>
<path d="M656.0 814.9L662.3 821.2L656.0 827.5L649.7 821.2Z" fill="#fff" stroke="#db5614" stroke-width="3.1" stroke-linejoin="miter"/>
<path d="M133.9 968.4 H148.6 M169.6 968.4 H185.1" stroke="#43aa79" stroke-width="3.2" stroke-linecap="round" fill="none"/>
<path d="M159.5 959.6L167.0 972.8L152.0 972.8Z" fill="#fff" stroke="#43aa79" stroke-width="3.4" stroke-linejoin="round"/>
<text x="191.3" y="975.6999999999999" font-size="22.8" fill="#43aa79" textLength="86" lengthAdjust="spacingAndGlyphs">70 Gbps</text>
<path d="M133.9 996.7 H148.6 M169.6 996.7 H185.1" stroke="#7068b8" stroke-width="3.2" stroke-linecap="round" fill="none"/>
<rect x="154.3" y="991.5" width="10.4" height="10.4" fill="#fff" stroke="#7068b8" stroke-width="3.5" stroke-linejoin="round"/>
<text x="191.3" y="1004.0" font-size="22.8" fill="#7068b8" textLength="86" lengthAdjust="spacingAndGlyphs">90 Gbps</text>
<path d="M133.9 1025 H148.6 M169.6 1025 H185.1" stroke="#deab25" stroke-width="3.2" stroke-linecap="round" fill="none"/>
<circle cx="159.5" cy="1025.0" r="6" fill="#fff" stroke="#deab25" stroke-width="3.6"/>
<text x="191.3" y="1032.3" font-size="22.8" fill="#deab25" textLength="98.6" lengthAdjust="spacingAndGlyphs">110 Gbps</text>
<path d="M133.9 1053.5 H151.6 M167.3 1053.5 H185.1" stroke="#db5614" stroke-width="3.2" stroke-linecap="round" fill="none"/>
<path d="M159.5 1047.2L165.8 1053.5L159.5 1059.8L153.2 1053.5Z" fill="#fff" stroke="#db5614" stroke-width="3.1" stroke-linejoin="miter"/>
<text x="191.3" y="1060.8" font-size="22.8" fill="#db5614" textLength="98.6" lengthAdjust="spacingAndGlyphs">130 Gbps</text>
<rect x="110.8" y="628.6" width="605.8000000000001" height="487.80000000000007" fill="none" stroke="#000" stroke-width="3.8"/>
<path d="M232.0 1116.4 v-8.5M232.0 628.6 v8.5M353.1 1116.4 v-8.5M353.1 628.6 v8.5M474.3 1116.4 v-8.5M474.3 628.6 v8.5M595.4 1116.4 v-8.5M595.4 628.6 v8.5M110.8 726.2 h8.5M716.6 726.2 h-8.5M110.8 823.7 h8.5M716.6 823.7 h-8.5M110.8 921.3 h8.5M716.6 921.3 h-8.5M110.8 1018.8 h8.5M716.6 1018.8 h-8.5" stroke="#000" stroke-width="3.2" fill="none"/>
<g font-size="37.5" fill="#000">
<text x="70.9" y="1158.2">-18</text>
<text x="195.5" y="1158.2">-16</text>
<text x="315.7" y="1158.2">-14</text>
<text x="439.2" y="1158.2">-12</text>
<text x="562" y="1158.2">-10</text>
<text x="688.5" y="1158.2">-8</text>
<text x="36.2" y="741.1">10<tspan font-size="23" dy="-17.8" dx="1.4">-1</tspan></text>
<text x="36.2" y="838.6">10<tspan font-size="23" dy="-17.8" dx="1.4">-2</tspan></text>
<text x="36.2" y="936.2">10<tspan font-size="23" dy="-17.8" dx="1.4">-3</tspan></text>
<text x="36.2" y="1033.7">10<tspan font-size="23" dy="-17.8" dx="1.4">-4</tspan></text>
<text x="36.2" y="1131.3">10<tspan font-size="23" dy="-17.8" dx="1.4">-5</tspan></text>
<text x="160.5" y="1194.8" textLength="507" lengthAdjust="spacingAndGlyphs">Received optical power (dBm)</text>
<text transform="translate(28.9 907.4) rotate(-90)" font-size="37.7">BER</text>
</g>
</g>
<g id="pg">
<text x="743.6" y="630.4" class="b" font-size="43.5" fill="#000">g</text>
<defs><clipPath id="gclip"><rect x="870.6" y="627" width="602.1999999999999" height="485"/></clipPath></defs><g clip-path="url(#gclip)">
<rect x="1179.3" y="659.5" width="15.4" height="15.4" fill="none" stroke="#3a6dbf" stroke-width="1.8"/>
<rect x="1450.9" y="659.5" width="15.4" height="15.4" fill="none" stroke="#3a6dbf" stroke-width="1.8"/>
<rect x="1088.0" y="833.7" width="15.4" height="15.4" fill="none" stroke="#3a6dbf" stroke-width="1.8"/>
<rect x="1087.9" y="902.4" width="15.4" height="15.4" fill="none" stroke="#3a6dbf" stroke-width="1.8"/>
<rect x="1219.9" y="869.5" width="15.4" height="15.4" fill="none" stroke="#3a6dbf" stroke-width="1.8"/>
<rect x="1253.4" y="902.4" width="15.4" height="15.4" fill="none" stroke="#3a6dbf" stroke-width="1.8"/>
<rect x="949.8" y="948.5" width="15.4" height="15.4" fill="none" stroke="#3a6dbf" stroke-width="1.8"/>
<rect x="1158.6" y="1003.8" width="15.4" height="15.4" fill="none" stroke="#3a6dbf" stroke-width="1.8"/>
<rect x="983.8" y="1036.1" width="15.4" height="15.4" fill="none" stroke="#3a6dbf" stroke-width="1.8"/>
<rect x="970.1" y="1093.7" width="15.4" height="15.4" fill="none" stroke="#3a6dbf" stroke-width="1.8"/>
<rect x="1296.4" y="1101.9" width="15.4" height="15.4" fill="none" stroke="#3a6dbf" stroke-width="1.8"/>
</g>
<path d="M922.4 655.8 L925.1 663.9 L933.6 664.0 L926.8 669.0 L929.3 677.1 L922.4 672.2 L915.5 677.1 L918.0 669.0 L911.2 664.0 L919.7 663.9Z" fill="#c0622c"/>
<rect x="870.6" y="627" width="602.1999999999999" height="485" fill="none" stroke="#000" stroke-width="3.6"/>
<path d="M870.6 1071.6 h5 M1472.8 1071.6 h-5M870.6 1031.2 h9.3 M1472.8 1031.2 h-9.3M870.6 990.9 h5 M1472.8 990.9 h-5M870.6 950.5 h9.3 M1472.8 950.5 h-9.3M870.6 910.1 h5 M1472.8 910.1 h-5M870.6 869.7 h9.3 M1472.8 869.7 h-9.3M870.6 829.3 h5 M1472.8 829.3 h-5M870.6 789.0 h9.3 M1472.8 789.0 h-9.3M870.6 748.6 h5 M1472.8 748.6 h-5M870.6 708.2 h9.3 M1472.8 708.2 h-9.3M870.6 667.8 h5 M1472.8 667.8 h-5M922.6 1112 v-9.3 M922.6 627 v9.3M974.7 1112 v-5 M974.7 627 v5M1005.2 1112 v-5 M1005.2 627 v5M1026.8 1112 v-5 M1026.8 627 v5M1043.6 1112 v-5 M1043.6 627 v5M1057.3 1112 v-5 M1057.3 627 v5M1068.9 1112 v-5 M1068.9 627 v5M1079.0 1112 v-5 M1079.0 627 v5M1087.8 1112 v-5 M1087.8 627 v5M1095.8 1112 v-9.3 M1095.8 627 v9.3M1147.9 1112 v-5 M1147.9 627 v5M1178.4 1112 v-5 M1178.4 627 v5M1200.0 1112 v-5 M1200.0 627 v5M1216.8 1112 v-5 M1216.8 627 v5M1230.5 1112 v-5 M1230.5 627 v5M1242.1 1112 v-5 M1242.1 627 v5M1252.1 1112 v-5 M1252.1 627 v5M1261.0 1112 v-5 M1261.0 627 v5M1268.9 1112 v-9.3 M1268.9 627 v9.3M1321.0 1112 v-5 M1321.0 627 v5M1351.5 1112 v-5 M1351.5 627 v5M1373.1 1112 v-5 M1373.1 627 v5M1389.9 1112 v-5 M1389.9 627 v5M1403.6 1112 v-5 M1403.6 627 v5M1415.2 1112 v-5 M1415.2 627 v5M1425.3 1112 v-5 M1425.3 627 v5M1434.1 1112 v-5 M1434.1 627 v5M1442.1 1112 v-9.3 M1442.1 627 v9.3M878.0 1112 v-5 M878.0 627 v5M885.0 1112 v-5 M885.0 627 v5M892.2 1112 v-5 M892.2 627 v5M898.3 1112 v-5 M898.3 627 v5M903.7 1112 v-5 M903.7 627 v5M908.7 1112 v-5 M908.7 627 v5M913.7 1112 v-5 M913.7 627 v5M918.3 1112 v-5 M918.3 627 v5" stroke="#000" stroke-width="3" fill="none"/>
<g font-size="39.9" fill="#000">
<text x="858.5" y="1123.8" text-anchor="end">0</text>
<text x="858.5" y="1043.0" text-anchor="end">20</text>
<text x="858.5" y="962.3" text-anchor="end">40</text>
<text x="858.5" y="881.5" text-anchor="end">60</text>
<text x="858.5" y="800.8" text-anchor="end">80</text>
<text x="858.5" y="720.0" text-anchor="end">100</text>
<text x="858.5" y="637.6" text-anchor="end">120</text>
<text x="870.7" y="1154" text-anchor="middle">5</text>
<text x="924.2" y="1154" text-anchor="middle">10</text>
<text x="1097.0" y="1154" text-anchor="middle">100</text>
<text x="1269.9" y="1154" text-anchor="middle">1000</text>
<text x="1442.5" y="1154" text-anchor="middle">10000</text>
<text x="1040" y="1201" font-size="40.8">Footprint(um<tspan font-size="27" dy="-16.8">2</tspan><tspan dy="16.8">)</tspan></text>
<text transform="translate(781.7 1018.8) rotate(-90)" font-size="41">Bandwidth(GHz)</text>
</g>
<g font-size="25.2" fill="#000">
<text x="894.8" y="700.8" textLength="108.6" lengthAdjust="spacingAndGlyphs">This work</text>
<text x="1273" y="658.8" textLength="169.8" lengthAdjust="spacingAndGlyphs"><tspan class="i">SA</tspan>, PKU, 2023</text>
<text x="1093.5" y="705.9" textLength="188.6" lengthAdjust="spacingAndGlyphs"><tspan class="i">PR</tspan>, HUST, 2022</text>
<text x="1002.5" y="822.6" textLength="188.1" lengthAdjust="spacingAndGlyphs"><tspan class="i">OL</tspan>, CUHK, 2022</text>
<text x="1242.5" y="864.6" textLength="155.5" lengthAdjust="spacingAndGlyphs"><tspan class="i">NC</tspan>, HP, 2024</text>
<text x="1002.5" y="897" textLength="174.0" lengthAdjust="spacingAndGlyphs"><tspan class="i">JLT</tspan>, Intel, 2020</text>
<text x="1248" y="943.6" textLength="209.7" lengthAdjust="spacingAndGlyphs"><tspan class="i">NP</tspan>, SOTON, 2023</text>
<text x="973.5" y="965.5" textLength="194.7" lengthAdjust="spacingAndGlyphs"><tspan class="i">ACP</tspan>, CICT, 2021</text>
<text x="1178.5" y="1000.5" textLength="217.4" lengthAdjust="spacingAndGlyphs"><tspan class="i">Optica</tspan>, Laval, 2016</text>
<text x="919.3" y="1023" textLength="156.6" lengthAdjust="spacingAndGlyphs"><tspan class="i">NC</tspan>, MIT,2014</text>
<text x="994.3" y="1095.2" textLength="170.9" lengthAdjust="spacingAndGlyphs"><tspan class="i">OFC</tspan>, BU, 2021</text>
<text x="1232.6" y="1063.6" textLength="203.2" lengthAdjust="spacingAndGlyphs"><tspan class="i">NC</tspan>, Zhejiang Lab,</text>
<text x="1305" y="1093.2" textLength="56.6" lengthAdjust="spacingAndGlyphs">2023</text>
</g>
</g>
</svg></body></html>
